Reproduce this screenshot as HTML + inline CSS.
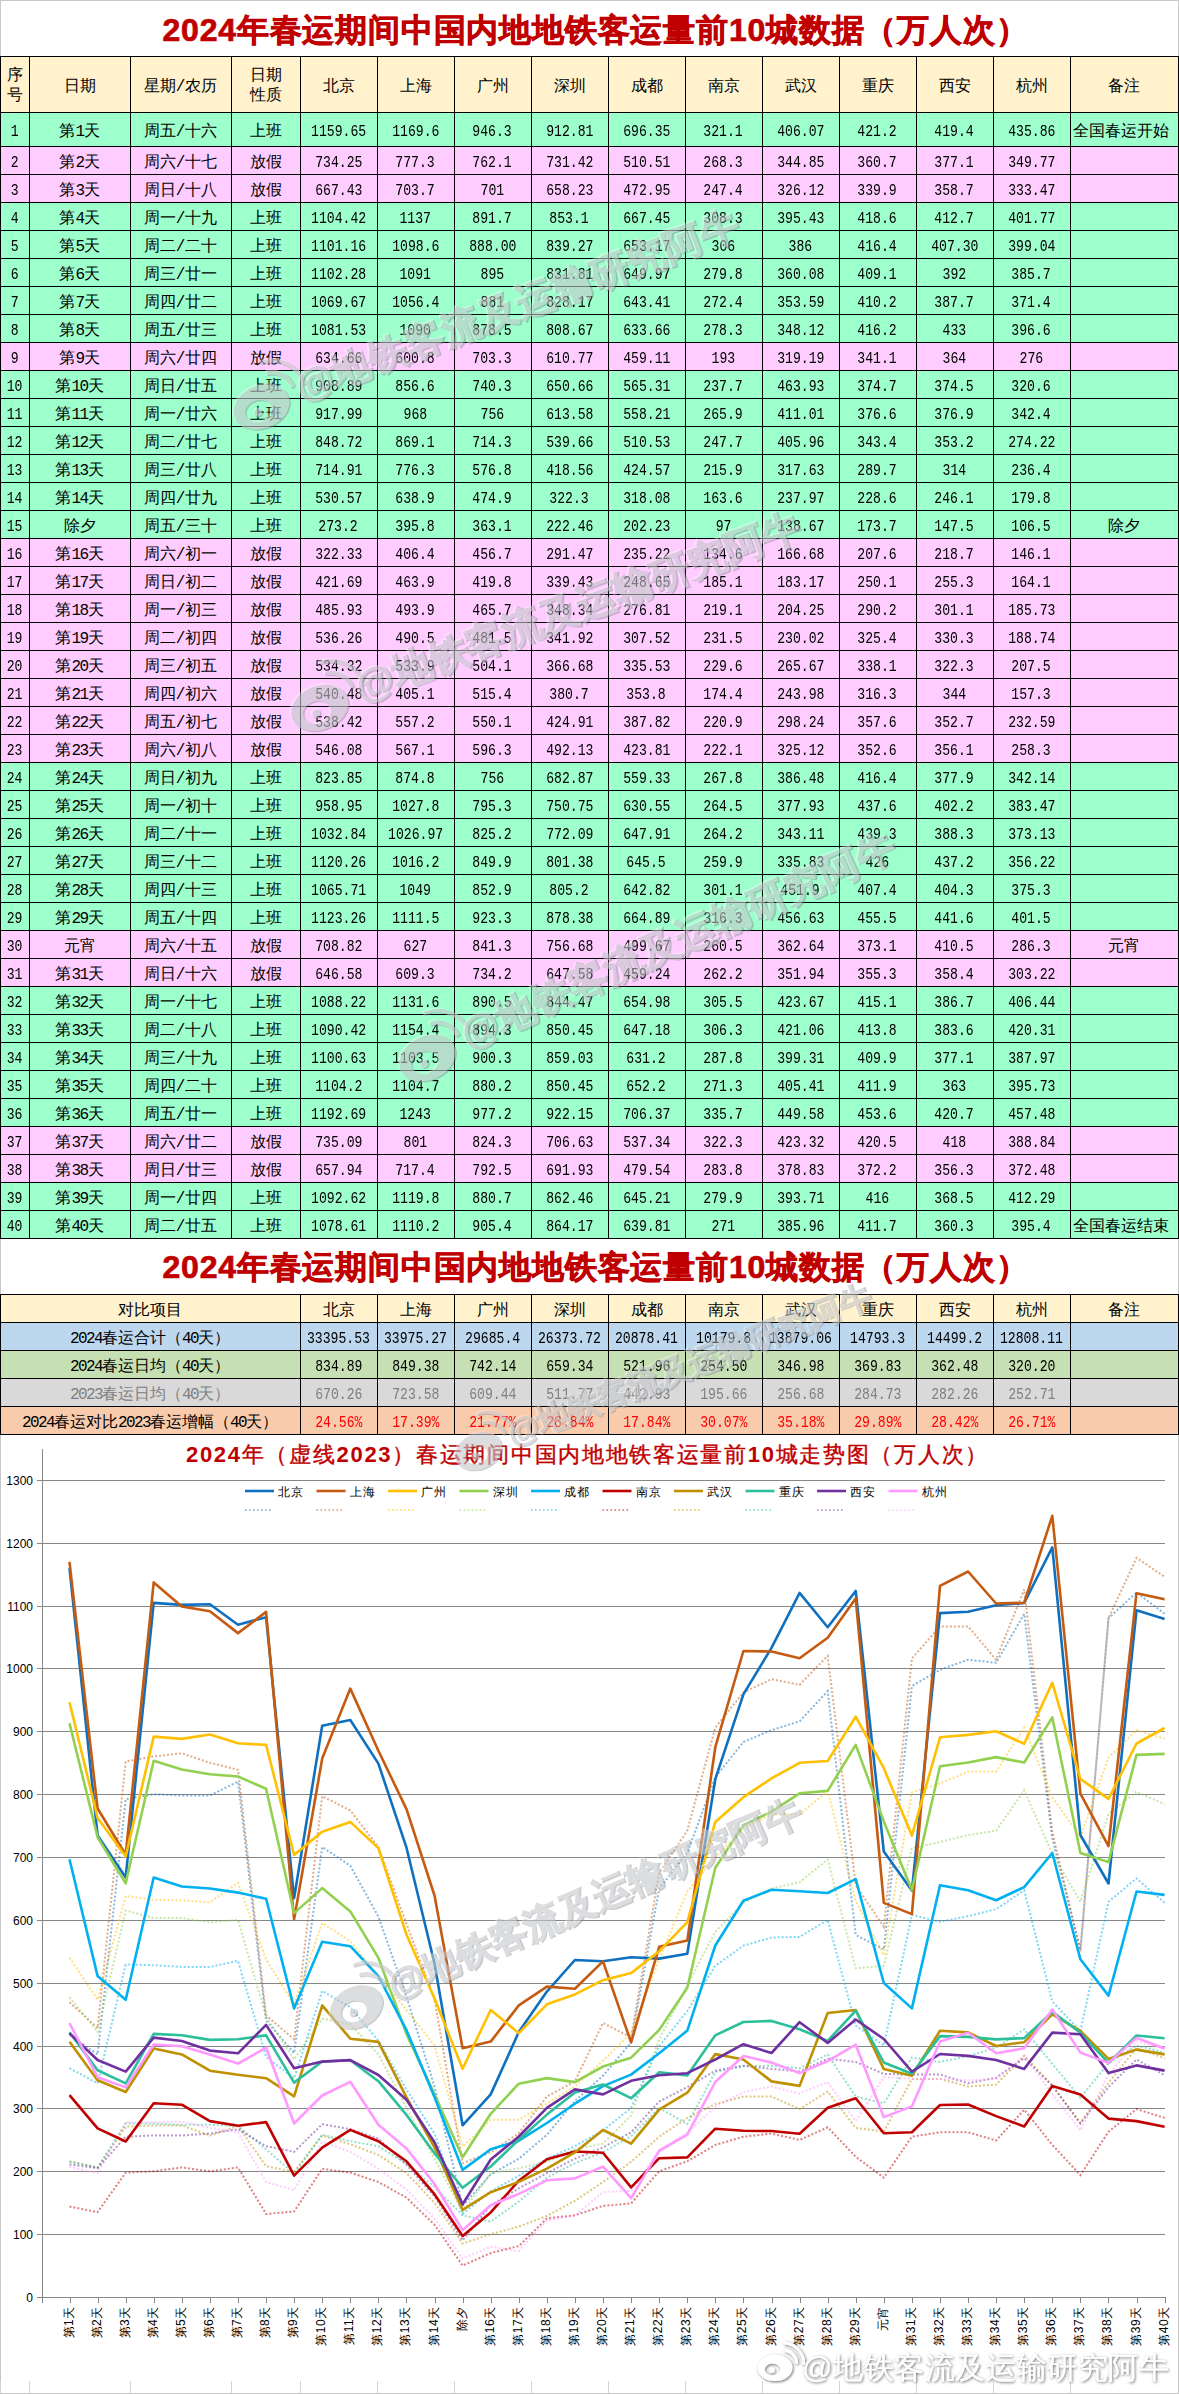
<!DOCTYPE html><html><head><meta charset="utf-8"><style>
*{box-sizing:border-box}
body{margin:0;width:1179px;height:2394px;position:relative;overflow:hidden;background:#fff;font-family:"Liberation Mono",monospace;color:#000}
.a{position:absolute}
.hl{position:absolute;height:1px;background:#000}
.vl{position:absolute;width:1px;background:#000}
.c{position:absolute;text-align:center;white-space:nowrap;font-size:16px;font-weight:300}
.n{display:inline-block;transform:scaleX(.82);}
.m{letter-spacing:-1.6px}
.ttl{position:absolute;left:6px;width:1179px;text-align:center;font-family:"Liberation Sans",sans-serif;font-weight:bold;color:#c00000;-webkit-text-stroke:.7px #c00000;font-size:32px;white-space:nowrap;letter-spacing:.8px}
</style></head><body>
<div class="a" style="left:0;top:0;width:1179px;height:1px;background:#c8c8c8"></div>
<div class="a" style="left:0;top:0;width:1px;height:2394px;background:#c8c8c8"></div>
<div class="a" style="left:1178px;top:0;width:1px;height:2394px;background:#c8c8c8"></div>
<div class="a" style="left:0;top:2393px;width:1179px;height:1px;background:#c8c8c8"></div>
<div class="ttl" style="top:9px;">2024年春运期间中国内地地铁客运量前10城数据（万人次）</div>
<div class="a" style="left:0;top:56px;width:1179px;height:56px;background:#fff2cc"></div>
<div class="a" style="left:0;top:112px;width:1179px;height:34px;background:#9cffcc"></div>
<div class="a" style="left:0;top:146px;width:1179px;height:28px;background:#ffccff"></div>
<div class="a" style="left:0;top:174px;width:1179px;height:28px;background:#ffccff"></div>
<div class="a" style="left:0;top:202px;width:1179px;height:28px;background:#9cffcc"></div>
<div class="a" style="left:0;top:230px;width:1179px;height:28px;background:#9cffcc"></div>
<div class="a" style="left:0;top:258px;width:1179px;height:28px;background:#9cffcc"></div>
<div class="a" style="left:0;top:286px;width:1179px;height:28px;background:#9cffcc"></div>
<div class="a" style="left:0;top:314px;width:1179px;height:28px;background:#9cffcc"></div>
<div class="a" style="left:0;top:342px;width:1179px;height:28px;background:#ffccff"></div>
<div class="a" style="left:0;top:370px;width:1179px;height:28px;background:#9cffcc"></div>
<div class="a" style="left:0;top:398px;width:1179px;height:28px;background:#9cffcc"></div>
<div class="a" style="left:0;top:426px;width:1179px;height:28px;background:#9cffcc"></div>
<div class="a" style="left:0;top:454px;width:1179px;height:28px;background:#9cffcc"></div>
<div class="a" style="left:0;top:482px;width:1179px;height:28px;background:#9cffcc"></div>
<div class="a" style="left:0;top:510px;width:1179px;height:28px;background:#9cffcc"></div>
<div class="a" style="left:0;top:538px;width:1179px;height:28px;background:#ffccff"></div>
<div class="a" style="left:0;top:566px;width:1179px;height:28px;background:#ffccff"></div>
<div class="a" style="left:0;top:594px;width:1179px;height:28px;background:#ffccff"></div>
<div class="a" style="left:0;top:622px;width:1179px;height:28px;background:#ffccff"></div>
<div class="a" style="left:0;top:650px;width:1179px;height:28px;background:#ffccff"></div>
<div class="a" style="left:0;top:678px;width:1179px;height:28px;background:#ffccff"></div>
<div class="a" style="left:0;top:706px;width:1179px;height:28px;background:#ffccff"></div>
<div class="a" style="left:0;top:734px;width:1179px;height:28px;background:#ffccff"></div>
<div class="a" style="left:0;top:762px;width:1179px;height:28px;background:#9cffcc"></div>
<div class="a" style="left:0;top:790px;width:1179px;height:28px;background:#9cffcc"></div>
<div class="a" style="left:0;top:818px;width:1179px;height:28px;background:#9cffcc"></div>
<div class="a" style="left:0;top:846px;width:1179px;height:28px;background:#9cffcc"></div>
<div class="a" style="left:0;top:874px;width:1179px;height:28px;background:#9cffcc"></div>
<div class="a" style="left:0;top:902px;width:1179px;height:28px;background:#9cffcc"></div>
<div class="a" style="left:0;top:930px;width:1179px;height:28px;background:#ffccff"></div>
<div class="a" style="left:0;top:958px;width:1179px;height:28px;background:#ffccff"></div>
<div class="a" style="left:0;top:986px;width:1179px;height:28px;background:#9cffcc"></div>
<div class="a" style="left:0;top:1014px;width:1179px;height:28px;background:#9cffcc"></div>
<div class="a" style="left:0;top:1042px;width:1179px;height:28px;background:#9cffcc"></div>
<div class="a" style="left:0;top:1070px;width:1179px;height:28px;background:#9cffcc"></div>
<div class="a" style="left:0;top:1098px;width:1179px;height:28px;background:#9cffcc"></div>
<div class="a" style="left:0;top:1126px;width:1179px;height:28px;background:#ffccff"></div>
<div class="a" style="left:0;top:1154px;width:1179px;height:28px;background:#ffccff"></div>
<div class="a" style="left:0;top:1182px;width:1179px;height:28px;background:#9cffcc"></div>
<div class="a" style="left:0;top:1210px;width:1179px;height:28px;background:#9cffcc"></div>
<div class="c" style="left:0px;width:29px;top:66px;line-height:20px">序<br>号</div>
<div class="c" style="left:29px;width:101px;top:59px;height:56px;line-height:56px;">日期</div>
<div class="c" style="left:130px;width:101px;top:59px;height:56px;line-height:56px;">星期/农历</div>
<div class="c" style="left:231px;width:69px;top:66px;line-height:20px">日期<br>性质</div>
<div class="c" style="left:300px;width:77px;top:59px;height:56px;line-height:56px;">北京</div>
<div class="c" style="left:377px;width:77px;top:59px;height:56px;line-height:56px;">上海</div>
<div class="c" style="left:454px;width:77px;top:59px;height:56px;line-height:56px;">广州</div>
<div class="c" style="left:531px;width:77px;top:59px;height:56px;line-height:56px;">深圳</div>
<div class="c" style="left:608px;width:77px;top:59px;height:56px;line-height:56px;">成都</div>
<div class="c" style="left:685px;width:77px;top:59px;height:56px;line-height:56px;">南京</div>
<div class="c" style="left:762px;width:77px;top:59px;height:56px;line-height:56px;">武汉</div>
<div class="c" style="left:839px;width:77px;top:59px;height:56px;line-height:56px;">重庆</div>
<div class="c" style="left:916px;width:77px;top:59px;height:56px;line-height:56px;">西安</div>
<div class="c" style="left:993px;width:77px;top:59px;height:56px;line-height:56px;">杭州</div>
<div class="c" style="left:1070px;width:108px;top:59px;height:56px;line-height:56px;">备注</div>
<div class="c" style="left:0px;width:29px;top:115px;height:34px;line-height:34px;"><span class="n">1</span></div>
<div class="c" style="left:29px;width:101px;top:115px;height:34px;line-height:34px;">第<span class="m">1</span>天</div>
<div class="c" style="left:130px;width:101px;top:115px;height:34px;line-height:34px;">周五/十六</div>
<div class="c" style="left:231px;width:69px;top:115px;height:34px;line-height:34px;">上班</div>
<div class="c" style="left:300px;width:77px;top:115px;height:34px;line-height:34px;"><span class="n">1159.65</span></div>
<div class="c" style="left:377px;width:77px;top:115px;height:34px;line-height:34px;"><span class="n">1169.6</span></div>
<div class="c" style="left:454px;width:77px;top:115px;height:34px;line-height:34px;"><span class="n">946.3</span></div>
<div class="c" style="left:531px;width:77px;top:115px;height:34px;line-height:34px;"><span class="n">912.81</span></div>
<div class="c" style="left:608px;width:77px;top:115px;height:34px;line-height:34px;"><span class="n">696.35</span></div>
<div class="c" style="left:685px;width:77px;top:115px;height:34px;line-height:34px;"><span class="n">321.1</span></div>
<div class="c" style="left:762px;width:77px;top:115px;height:34px;line-height:34px;"><span class="n">406.07</span></div>
<div class="c" style="left:839px;width:77px;top:115px;height:34px;line-height:34px;"><span class="n">421.2</span></div>
<div class="c" style="left:916px;width:77px;top:115px;height:34px;line-height:34px;"><span class="n">419.4</span></div>
<div class="c" style="left:993px;width:77px;top:115px;height:34px;line-height:34px;"><span class="n">435.86</span></div>
<div class="c" style="left:1070px;width:108px;top:115px;height:34px;line-height:34px;text-align:left;padding-left:3px;">全国春运开始</div>
<div class="c" style="left:0px;width:29px;top:149px;height:28px;line-height:28px;"><span class="n">2</span></div>
<div class="c" style="left:29px;width:101px;top:149px;height:28px;line-height:28px;">第<span class="m">2</span>天</div>
<div class="c" style="left:130px;width:101px;top:149px;height:28px;line-height:28px;">周六/十七</div>
<div class="c" style="left:231px;width:69px;top:149px;height:28px;line-height:28px;">放假</div>
<div class="c" style="left:300px;width:77px;top:149px;height:28px;line-height:28px;"><span class="n">734.25</span></div>
<div class="c" style="left:377px;width:77px;top:149px;height:28px;line-height:28px;"><span class="n">777.3</span></div>
<div class="c" style="left:454px;width:77px;top:149px;height:28px;line-height:28px;"><span class="n">762.1</span></div>
<div class="c" style="left:531px;width:77px;top:149px;height:28px;line-height:28px;"><span class="n">731.42</span></div>
<div class="c" style="left:608px;width:77px;top:149px;height:28px;line-height:28px;"><span class="n">510.51</span></div>
<div class="c" style="left:685px;width:77px;top:149px;height:28px;line-height:28px;"><span class="n">268.3</span></div>
<div class="c" style="left:762px;width:77px;top:149px;height:28px;line-height:28px;"><span class="n">344.85</span></div>
<div class="c" style="left:839px;width:77px;top:149px;height:28px;line-height:28px;"><span class="n">360.7</span></div>
<div class="c" style="left:916px;width:77px;top:149px;height:28px;line-height:28px;"><span class="n">377.1</span></div>
<div class="c" style="left:993px;width:77px;top:149px;height:28px;line-height:28px;"><span class="n">349.77</span></div>
<div class="c" style="left:0px;width:29px;top:177px;height:28px;line-height:28px;"><span class="n">3</span></div>
<div class="c" style="left:29px;width:101px;top:177px;height:28px;line-height:28px;">第<span class="m">3</span>天</div>
<div class="c" style="left:130px;width:101px;top:177px;height:28px;line-height:28px;">周日/十八</div>
<div class="c" style="left:231px;width:69px;top:177px;height:28px;line-height:28px;">放假</div>
<div class="c" style="left:300px;width:77px;top:177px;height:28px;line-height:28px;"><span class="n">667.43</span></div>
<div class="c" style="left:377px;width:77px;top:177px;height:28px;line-height:28px;"><span class="n">703.7</span></div>
<div class="c" style="left:454px;width:77px;top:177px;height:28px;line-height:28px;"><span class="n">701</span></div>
<div class="c" style="left:531px;width:77px;top:177px;height:28px;line-height:28px;"><span class="n">658.23</span></div>
<div class="c" style="left:608px;width:77px;top:177px;height:28px;line-height:28px;"><span class="n">472.95</span></div>
<div class="c" style="left:685px;width:77px;top:177px;height:28px;line-height:28px;"><span class="n">247.4</span></div>
<div class="c" style="left:762px;width:77px;top:177px;height:28px;line-height:28px;"><span class="n">326.12</span></div>
<div class="c" style="left:839px;width:77px;top:177px;height:28px;line-height:28px;"><span class="n">339.9</span></div>
<div class="c" style="left:916px;width:77px;top:177px;height:28px;line-height:28px;"><span class="n">358.7</span></div>
<div class="c" style="left:993px;width:77px;top:177px;height:28px;line-height:28px;"><span class="n">333.47</span></div>
<div class="c" style="left:0px;width:29px;top:205px;height:28px;line-height:28px;"><span class="n">4</span></div>
<div class="c" style="left:29px;width:101px;top:205px;height:28px;line-height:28px;">第<span class="m">4</span>天</div>
<div class="c" style="left:130px;width:101px;top:205px;height:28px;line-height:28px;">周一/十九</div>
<div class="c" style="left:231px;width:69px;top:205px;height:28px;line-height:28px;">上班</div>
<div class="c" style="left:300px;width:77px;top:205px;height:28px;line-height:28px;"><span class="n">1104.42</span></div>
<div class="c" style="left:377px;width:77px;top:205px;height:28px;line-height:28px;"><span class="n">1137</span></div>
<div class="c" style="left:454px;width:77px;top:205px;height:28px;line-height:28px;"><span class="n">891.7</span></div>
<div class="c" style="left:531px;width:77px;top:205px;height:28px;line-height:28px;"><span class="n">853.1</span></div>
<div class="c" style="left:608px;width:77px;top:205px;height:28px;line-height:28px;"><span class="n">667.45</span></div>
<div class="c" style="left:685px;width:77px;top:205px;height:28px;line-height:28px;"><span class="n">308.3</span></div>
<div class="c" style="left:762px;width:77px;top:205px;height:28px;line-height:28px;"><span class="n">395.43</span></div>
<div class="c" style="left:839px;width:77px;top:205px;height:28px;line-height:28px;"><span class="n">418.6</span></div>
<div class="c" style="left:916px;width:77px;top:205px;height:28px;line-height:28px;"><span class="n">412.7</span></div>
<div class="c" style="left:993px;width:77px;top:205px;height:28px;line-height:28px;"><span class="n">401.77</span></div>
<div class="c" style="left:0px;width:29px;top:233px;height:28px;line-height:28px;"><span class="n">5</span></div>
<div class="c" style="left:29px;width:101px;top:233px;height:28px;line-height:28px;">第<span class="m">5</span>天</div>
<div class="c" style="left:130px;width:101px;top:233px;height:28px;line-height:28px;">周二/二十</div>
<div class="c" style="left:231px;width:69px;top:233px;height:28px;line-height:28px;">上班</div>
<div class="c" style="left:300px;width:77px;top:233px;height:28px;line-height:28px;"><span class="n">1101.16</span></div>
<div class="c" style="left:377px;width:77px;top:233px;height:28px;line-height:28px;"><span class="n">1098.6</span></div>
<div class="c" style="left:454px;width:77px;top:233px;height:28px;line-height:28px;"><span class="n">888.00</span></div>
<div class="c" style="left:531px;width:77px;top:233px;height:28px;line-height:28px;"><span class="n">839.27</span></div>
<div class="c" style="left:608px;width:77px;top:233px;height:28px;line-height:28px;"><span class="n">653.17</span></div>
<div class="c" style="left:685px;width:77px;top:233px;height:28px;line-height:28px;"><span class="n">306</span></div>
<div class="c" style="left:762px;width:77px;top:233px;height:28px;line-height:28px;"><span class="n">386</span></div>
<div class="c" style="left:839px;width:77px;top:233px;height:28px;line-height:28px;"><span class="n">416.4</span></div>
<div class="c" style="left:916px;width:77px;top:233px;height:28px;line-height:28px;"><span class="n">407.30</span></div>
<div class="c" style="left:993px;width:77px;top:233px;height:28px;line-height:28px;"><span class="n">399.04</span></div>
<div class="c" style="left:0px;width:29px;top:261px;height:28px;line-height:28px;"><span class="n">6</span></div>
<div class="c" style="left:29px;width:101px;top:261px;height:28px;line-height:28px;">第<span class="m">6</span>天</div>
<div class="c" style="left:130px;width:101px;top:261px;height:28px;line-height:28px;">周三/廿一</div>
<div class="c" style="left:231px;width:69px;top:261px;height:28px;line-height:28px;">上班</div>
<div class="c" style="left:300px;width:77px;top:261px;height:28px;line-height:28px;"><span class="n">1102.28</span></div>
<div class="c" style="left:377px;width:77px;top:261px;height:28px;line-height:28px;"><span class="n">1091</span></div>
<div class="c" style="left:454px;width:77px;top:261px;height:28px;line-height:28px;"><span class="n">895</span></div>
<div class="c" style="left:531px;width:77px;top:261px;height:28px;line-height:28px;"><span class="n">831.81</span></div>
<div class="c" style="left:608px;width:77px;top:261px;height:28px;line-height:28px;"><span class="n">649.97</span></div>
<div class="c" style="left:685px;width:77px;top:261px;height:28px;line-height:28px;"><span class="n">279.8</span></div>
<div class="c" style="left:762px;width:77px;top:261px;height:28px;line-height:28px;"><span class="n">360.08</span></div>
<div class="c" style="left:839px;width:77px;top:261px;height:28px;line-height:28px;"><span class="n">409.1</span></div>
<div class="c" style="left:916px;width:77px;top:261px;height:28px;line-height:28px;"><span class="n">392</span></div>
<div class="c" style="left:993px;width:77px;top:261px;height:28px;line-height:28px;"><span class="n">385.7</span></div>
<div class="c" style="left:0px;width:29px;top:289px;height:28px;line-height:28px;"><span class="n">7</span></div>
<div class="c" style="left:29px;width:101px;top:289px;height:28px;line-height:28px;">第<span class="m">7</span>天</div>
<div class="c" style="left:130px;width:101px;top:289px;height:28px;line-height:28px;">周四/廿二</div>
<div class="c" style="left:231px;width:69px;top:289px;height:28px;line-height:28px;">上班</div>
<div class="c" style="left:300px;width:77px;top:289px;height:28px;line-height:28px;"><span class="n">1069.67</span></div>
<div class="c" style="left:377px;width:77px;top:289px;height:28px;line-height:28px;"><span class="n">1056.4</span></div>
<div class="c" style="left:454px;width:77px;top:289px;height:28px;line-height:28px;"><span class="n">881</span></div>
<div class="c" style="left:531px;width:77px;top:289px;height:28px;line-height:28px;"><span class="n">828.17</span></div>
<div class="c" style="left:608px;width:77px;top:289px;height:28px;line-height:28px;"><span class="n">643.41</span></div>
<div class="c" style="left:685px;width:77px;top:289px;height:28px;line-height:28px;"><span class="n">272.4</span></div>
<div class="c" style="left:762px;width:77px;top:289px;height:28px;line-height:28px;"><span class="n">353.59</span></div>
<div class="c" style="left:839px;width:77px;top:289px;height:28px;line-height:28px;"><span class="n">410.2</span></div>
<div class="c" style="left:916px;width:77px;top:289px;height:28px;line-height:28px;"><span class="n">387.7</span></div>
<div class="c" style="left:993px;width:77px;top:289px;height:28px;line-height:28px;"><span class="n">371.4</span></div>
<div class="c" style="left:0px;width:29px;top:317px;height:28px;line-height:28px;"><span class="n">8</span></div>
<div class="c" style="left:29px;width:101px;top:317px;height:28px;line-height:28px;">第<span class="m">8</span>天</div>
<div class="c" style="left:130px;width:101px;top:317px;height:28px;line-height:28px;">周五/廿三</div>
<div class="c" style="left:231px;width:69px;top:317px;height:28px;line-height:28px;">上班</div>
<div class="c" style="left:300px;width:77px;top:317px;height:28px;line-height:28px;"><span class="n">1081.53</span></div>
<div class="c" style="left:377px;width:77px;top:317px;height:28px;line-height:28px;"><span class="n">1090</span></div>
<div class="c" style="left:454px;width:77px;top:317px;height:28px;line-height:28px;"><span class="n">878.5</span></div>
<div class="c" style="left:531px;width:77px;top:317px;height:28px;line-height:28px;"><span class="n">808.67</span></div>
<div class="c" style="left:608px;width:77px;top:317px;height:28px;line-height:28px;"><span class="n">633.66</span></div>
<div class="c" style="left:685px;width:77px;top:317px;height:28px;line-height:28px;"><span class="n">278.3</span></div>
<div class="c" style="left:762px;width:77px;top:317px;height:28px;line-height:28px;"><span class="n">348.12</span></div>
<div class="c" style="left:839px;width:77px;top:317px;height:28px;line-height:28px;"><span class="n">416.2</span></div>
<div class="c" style="left:916px;width:77px;top:317px;height:28px;line-height:28px;"><span class="n">433</span></div>
<div class="c" style="left:993px;width:77px;top:317px;height:28px;line-height:28px;"><span class="n">396.6</span></div>
<div class="c" style="left:0px;width:29px;top:345px;height:28px;line-height:28px;"><span class="n">9</span></div>
<div class="c" style="left:29px;width:101px;top:345px;height:28px;line-height:28px;">第<span class="m">9</span>天</div>
<div class="c" style="left:130px;width:101px;top:345px;height:28px;line-height:28px;">周六/廿四</div>
<div class="c" style="left:231px;width:69px;top:345px;height:28px;line-height:28px;">放假</div>
<div class="c" style="left:300px;width:77px;top:345px;height:28px;line-height:28px;"><span class="n">634.66</span></div>
<div class="c" style="left:377px;width:77px;top:345px;height:28px;line-height:28px;"><span class="n">600.8</span></div>
<div class="c" style="left:454px;width:77px;top:345px;height:28px;line-height:28px;"><span class="n">703.3</span></div>
<div class="c" style="left:531px;width:77px;top:345px;height:28px;line-height:28px;"><span class="n">610.77</span></div>
<div class="c" style="left:608px;width:77px;top:345px;height:28px;line-height:28px;"><span class="n">459.11</span></div>
<div class="c" style="left:685px;width:77px;top:345px;height:28px;line-height:28px;"><span class="n">193</span></div>
<div class="c" style="left:762px;width:77px;top:345px;height:28px;line-height:28px;"><span class="n">319.19</span></div>
<div class="c" style="left:839px;width:77px;top:345px;height:28px;line-height:28px;"><span class="n">341.1</span></div>
<div class="c" style="left:916px;width:77px;top:345px;height:28px;line-height:28px;"><span class="n">364</span></div>
<div class="c" style="left:993px;width:77px;top:345px;height:28px;line-height:28px;"><span class="n">276</span></div>
<div class="c" style="left:0px;width:29px;top:373px;height:28px;line-height:28px;"><span class="n">10</span></div>
<div class="c" style="left:29px;width:101px;top:373px;height:28px;line-height:28px;">第<span class="m">10</span>天</div>
<div class="c" style="left:130px;width:101px;top:373px;height:28px;line-height:28px;">周日/廿五</div>
<div class="c" style="left:231px;width:69px;top:373px;height:28px;line-height:28px;">上班</div>
<div class="c" style="left:300px;width:77px;top:373px;height:28px;line-height:28px;"><span class="n">908.89</span></div>
<div class="c" style="left:377px;width:77px;top:373px;height:28px;line-height:28px;"><span class="n">856.6</span></div>
<div class="c" style="left:454px;width:77px;top:373px;height:28px;line-height:28px;"><span class="n">740.3</span></div>
<div class="c" style="left:531px;width:77px;top:373px;height:28px;line-height:28px;"><span class="n">650.66</span></div>
<div class="c" style="left:608px;width:77px;top:373px;height:28px;line-height:28px;"><span class="n">565.31</span></div>
<div class="c" style="left:685px;width:77px;top:373px;height:28px;line-height:28px;"><span class="n">237.7</span></div>
<div class="c" style="left:762px;width:77px;top:373px;height:28px;line-height:28px;"><span class="n">463.93</span></div>
<div class="c" style="left:839px;width:77px;top:373px;height:28px;line-height:28px;"><span class="n">374.7</span></div>
<div class="c" style="left:916px;width:77px;top:373px;height:28px;line-height:28px;"><span class="n">374.5</span></div>
<div class="c" style="left:993px;width:77px;top:373px;height:28px;line-height:28px;"><span class="n">320.6</span></div>
<div class="c" style="left:0px;width:29px;top:401px;height:28px;line-height:28px;"><span class="n">11</span></div>
<div class="c" style="left:29px;width:101px;top:401px;height:28px;line-height:28px;">第<span class="m">11</span>天</div>
<div class="c" style="left:130px;width:101px;top:401px;height:28px;line-height:28px;">周一/廿六</div>
<div class="c" style="left:231px;width:69px;top:401px;height:28px;line-height:28px;">上班</div>
<div class="c" style="left:300px;width:77px;top:401px;height:28px;line-height:28px;"><span class="n">917.99</span></div>
<div class="c" style="left:377px;width:77px;top:401px;height:28px;line-height:28px;"><span class="n">968</span></div>
<div class="c" style="left:454px;width:77px;top:401px;height:28px;line-height:28px;"><span class="n">756</span></div>
<div class="c" style="left:531px;width:77px;top:401px;height:28px;line-height:28px;"><span class="n">613.58</span></div>
<div class="c" style="left:608px;width:77px;top:401px;height:28px;line-height:28px;"><span class="n">558.21</span></div>
<div class="c" style="left:685px;width:77px;top:401px;height:28px;line-height:28px;"><span class="n">265.9</span></div>
<div class="c" style="left:762px;width:77px;top:401px;height:28px;line-height:28px;"><span class="n">411.01</span></div>
<div class="c" style="left:839px;width:77px;top:401px;height:28px;line-height:28px;"><span class="n">376.6</span></div>
<div class="c" style="left:916px;width:77px;top:401px;height:28px;line-height:28px;"><span class="n">376.9</span></div>
<div class="c" style="left:993px;width:77px;top:401px;height:28px;line-height:28px;"><span class="n">342.4</span></div>
<div class="c" style="left:0px;width:29px;top:429px;height:28px;line-height:28px;"><span class="n">12</span></div>
<div class="c" style="left:29px;width:101px;top:429px;height:28px;line-height:28px;">第<span class="m">12</span>天</div>
<div class="c" style="left:130px;width:101px;top:429px;height:28px;line-height:28px;">周二/廿七</div>
<div class="c" style="left:231px;width:69px;top:429px;height:28px;line-height:28px;">上班</div>
<div class="c" style="left:300px;width:77px;top:429px;height:28px;line-height:28px;"><span class="n">848.72</span></div>
<div class="c" style="left:377px;width:77px;top:429px;height:28px;line-height:28px;"><span class="n">869.1</span></div>
<div class="c" style="left:454px;width:77px;top:429px;height:28px;line-height:28px;"><span class="n">714.3</span></div>
<div class="c" style="left:531px;width:77px;top:429px;height:28px;line-height:28px;"><span class="n">539.66</span></div>
<div class="c" style="left:608px;width:77px;top:429px;height:28px;line-height:28px;"><span class="n">510.53</span></div>
<div class="c" style="left:685px;width:77px;top:429px;height:28px;line-height:28px;"><span class="n">247.7</span></div>
<div class="c" style="left:762px;width:77px;top:429px;height:28px;line-height:28px;"><span class="n">405.96</span></div>
<div class="c" style="left:839px;width:77px;top:429px;height:28px;line-height:28px;"><span class="n">343.4</span></div>
<div class="c" style="left:916px;width:77px;top:429px;height:28px;line-height:28px;"><span class="n">353.2</span></div>
<div class="c" style="left:993px;width:77px;top:429px;height:28px;line-height:28px;"><span class="n">274.22</span></div>
<div class="c" style="left:0px;width:29px;top:457px;height:28px;line-height:28px;"><span class="n">13</span></div>
<div class="c" style="left:29px;width:101px;top:457px;height:28px;line-height:28px;">第<span class="m">13</span>天</div>
<div class="c" style="left:130px;width:101px;top:457px;height:28px;line-height:28px;">周三/廿八</div>
<div class="c" style="left:231px;width:69px;top:457px;height:28px;line-height:28px;">上班</div>
<div class="c" style="left:300px;width:77px;top:457px;height:28px;line-height:28px;"><span class="n">714.91</span></div>
<div class="c" style="left:377px;width:77px;top:457px;height:28px;line-height:28px;"><span class="n">776.3</span></div>
<div class="c" style="left:454px;width:77px;top:457px;height:28px;line-height:28px;"><span class="n">576.8</span></div>
<div class="c" style="left:531px;width:77px;top:457px;height:28px;line-height:28px;"><span class="n">418.56</span></div>
<div class="c" style="left:608px;width:77px;top:457px;height:28px;line-height:28px;"><span class="n">424.57</span></div>
<div class="c" style="left:685px;width:77px;top:457px;height:28px;line-height:28px;"><span class="n">215.9</span></div>
<div class="c" style="left:762px;width:77px;top:457px;height:28px;line-height:28px;"><span class="n">317.63</span></div>
<div class="c" style="left:839px;width:77px;top:457px;height:28px;line-height:28px;"><span class="n">289.7</span></div>
<div class="c" style="left:916px;width:77px;top:457px;height:28px;line-height:28px;"><span class="n">314</span></div>
<div class="c" style="left:993px;width:77px;top:457px;height:28px;line-height:28px;"><span class="n">236.4</span></div>
<div class="c" style="left:0px;width:29px;top:485px;height:28px;line-height:28px;"><span class="n">14</span></div>
<div class="c" style="left:29px;width:101px;top:485px;height:28px;line-height:28px;">第<span class="m">14</span>天</div>
<div class="c" style="left:130px;width:101px;top:485px;height:28px;line-height:28px;">周四/廿九</div>
<div class="c" style="left:231px;width:69px;top:485px;height:28px;line-height:28px;">上班</div>
<div class="c" style="left:300px;width:77px;top:485px;height:28px;line-height:28px;"><span class="n">530.57</span></div>
<div class="c" style="left:377px;width:77px;top:485px;height:28px;line-height:28px;"><span class="n">638.9</span></div>
<div class="c" style="left:454px;width:77px;top:485px;height:28px;line-height:28px;"><span class="n">474.9</span></div>
<div class="c" style="left:531px;width:77px;top:485px;height:28px;line-height:28px;"><span class="n">322.3</span></div>
<div class="c" style="left:608px;width:77px;top:485px;height:28px;line-height:28px;"><span class="n">318.08</span></div>
<div class="c" style="left:685px;width:77px;top:485px;height:28px;line-height:28px;"><span class="n">163.6</span></div>
<div class="c" style="left:762px;width:77px;top:485px;height:28px;line-height:28px;"><span class="n">237.97</span></div>
<div class="c" style="left:839px;width:77px;top:485px;height:28px;line-height:28px;"><span class="n">228.6</span></div>
<div class="c" style="left:916px;width:77px;top:485px;height:28px;line-height:28px;"><span class="n">246.1</span></div>
<div class="c" style="left:993px;width:77px;top:485px;height:28px;line-height:28px;"><span class="n">179.8</span></div>
<div class="c" style="left:0px;width:29px;top:513px;height:28px;line-height:28px;"><span class="n">15</span></div>
<div class="c" style="left:29px;width:101px;top:513px;height:28px;line-height:28px;">除夕</div>
<div class="c" style="left:130px;width:101px;top:513px;height:28px;line-height:28px;">周五/三十</div>
<div class="c" style="left:231px;width:69px;top:513px;height:28px;line-height:28px;">上班</div>
<div class="c" style="left:300px;width:77px;top:513px;height:28px;line-height:28px;"><span class="n">273.2</span></div>
<div class="c" style="left:377px;width:77px;top:513px;height:28px;line-height:28px;"><span class="n">395.8</span></div>
<div class="c" style="left:454px;width:77px;top:513px;height:28px;line-height:28px;"><span class="n">363.1</span></div>
<div class="c" style="left:531px;width:77px;top:513px;height:28px;line-height:28px;"><span class="n">222.46</span></div>
<div class="c" style="left:608px;width:77px;top:513px;height:28px;line-height:28px;"><span class="n">202.23</span></div>
<div class="c" style="left:685px;width:77px;top:513px;height:28px;line-height:28px;"><span class="n">97</span></div>
<div class="c" style="left:762px;width:77px;top:513px;height:28px;line-height:28px;"><span class="n">138.67</span></div>
<div class="c" style="left:839px;width:77px;top:513px;height:28px;line-height:28px;"><span class="n">173.7</span></div>
<div class="c" style="left:916px;width:77px;top:513px;height:28px;line-height:28px;"><span class="n">147.5</span></div>
<div class="c" style="left:993px;width:77px;top:513px;height:28px;line-height:28px;"><span class="n">106.5</span></div>
<div class="c" style="left:1070px;width:108px;top:513px;height:28px;line-height:28px;">除夕</div>
<div class="c" style="left:0px;width:29px;top:541px;height:28px;line-height:28px;"><span class="n">16</span></div>
<div class="c" style="left:29px;width:101px;top:541px;height:28px;line-height:28px;">第<span class="m">16</span>天</div>
<div class="c" style="left:130px;width:101px;top:541px;height:28px;line-height:28px;">周六/初一</div>
<div class="c" style="left:231px;width:69px;top:541px;height:28px;line-height:28px;">放假</div>
<div class="c" style="left:300px;width:77px;top:541px;height:28px;line-height:28px;"><span class="n">322.33</span></div>
<div class="c" style="left:377px;width:77px;top:541px;height:28px;line-height:28px;"><span class="n">406.4</span></div>
<div class="c" style="left:454px;width:77px;top:541px;height:28px;line-height:28px;"><span class="n">456.7</span></div>
<div class="c" style="left:531px;width:77px;top:541px;height:28px;line-height:28px;"><span class="n">291.47</span></div>
<div class="c" style="left:608px;width:77px;top:541px;height:28px;line-height:28px;"><span class="n">235.22</span></div>
<div class="c" style="left:685px;width:77px;top:541px;height:28px;line-height:28px;"><span class="n">134.6</span></div>
<div class="c" style="left:762px;width:77px;top:541px;height:28px;line-height:28px;"><span class="n">166.68</span></div>
<div class="c" style="left:839px;width:77px;top:541px;height:28px;line-height:28px;"><span class="n">207.6</span></div>
<div class="c" style="left:916px;width:77px;top:541px;height:28px;line-height:28px;"><span class="n">218.7</span></div>
<div class="c" style="left:993px;width:77px;top:541px;height:28px;line-height:28px;"><span class="n">146.1</span></div>
<div class="c" style="left:0px;width:29px;top:569px;height:28px;line-height:28px;"><span class="n">17</span></div>
<div class="c" style="left:29px;width:101px;top:569px;height:28px;line-height:28px;">第<span class="m">17</span>天</div>
<div class="c" style="left:130px;width:101px;top:569px;height:28px;line-height:28px;">周日/初二</div>
<div class="c" style="left:231px;width:69px;top:569px;height:28px;line-height:28px;">放假</div>
<div class="c" style="left:300px;width:77px;top:569px;height:28px;line-height:28px;"><span class="n">421.69</span></div>
<div class="c" style="left:377px;width:77px;top:569px;height:28px;line-height:28px;"><span class="n">463.9</span></div>
<div class="c" style="left:454px;width:77px;top:569px;height:28px;line-height:28px;"><span class="n">419.8</span></div>
<div class="c" style="left:531px;width:77px;top:569px;height:28px;line-height:28px;"><span class="n">339.43</span></div>
<div class="c" style="left:608px;width:77px;top:569px;height:28px;line-height:28px;"><span class="n">248.65</span></div>
<div class="c" style="left:685px;width:77px;top:569px;height:28px;line-height:28px;"><span class="n">185.1</span></div>
<div class="c" style="left:762px;width:77px;top:569px;height:28px;line-height:28px;"><span class="n">183.17</span></div>
<div class="c" style="left:839px;width:77px;top:569px;height:28px;line-height:28px;"><span class="n">250.1</span></div>
<div class="c" style="left:916px;width:77px;top:569px;height:28px;line-height:28px;"><span class="n">255.3</span></div>
<div class="c" style="left:993px;width:77px;top:569px;height:28px;line-height:28px;"><span class="n">164.1</span></div>
<div class="c" style="left:0px;width:29px;top:597px;height:28px;line-height:28px;"><span class="n">18</span></div>
<div class="c" style="left:29px;width:101px;top:597px;height:28px;line-height:28px;">第<span class="m">18</span>天</div>
<div class="c" style="left:130px;width:101px;top:597px;height:28px;line-height:28px;">周一/初三</div>
<div class="c" style="left:231px;width:69px;top:597px;height:28px;line-height:28px;">放假</div>
<div class="c" style="left:300px;width:77px;top:597px;height:28px;line-height:28px;"><span class="n">485.93</span></div>
<div class="c" style="left:377px;width:77px;top:597px;height:28px;line-height:28px;"><span class="n">493.9</span></div>
<div class="c" style="left:454px;width:77px;top:597px;height:28px;line-height:28px;"><span class="n">465.7</span></div>
<div class="c" style="left:531px;width:77px;top:597px;height:28px;line-height:28px;"><span class="n">348.34</span></div>
<div class="c" style="left:608px;width:77px;top:597px;height:28px;line-height:28px;"><span class="n">276.81</span></div>
<div class="c" style="left:685px;width:77px;top:597px;height:28px;line-height:28px;"><span class="n">219.1</span></div>
<div class="c" style="left:762px;width:77px;top:597px;height:28px;line-height:28px;"><span class="n">204.25</span></div>
<div class="c" style="left:839px;width:77px;top:597px;height:28px;line-height:28px;"><span class="n">290.2</span></div>
<div class="c" style="left:916px;width:77px;top:597px;height:28px;line-height:28px;"><span class="n">301.1</span></div>
<div class="c" style="left:993px;width:77px;top:597px;height:28px;line-height:28px;"><span class="n">185.73</span></div>
<div class="c" style="left:0px;width:29px;top:625px;height:28px;line-height:28px;"><span class="n">19</span></div>
<div class="c" style="left:29px;width:101px;top:625px;height:28px;line-height:28px;">第<span class="m">19</span>天</div>
<div class="c" style="left:130px;width:101px;top:625px;height:28px;line-height:28px;">周二/初四</div>
<div class="c" style="left:231px;width:69px;top:625px;height:28px;line-height:28px;">放假</div>
<div class="c" style="left:300px;width:77px;top:625px;height:28px;line-height:28px;"><span class="n">536.26</span></div>
<div class="c" style="left:377px;width:77px;top:625px;height:28px;line-height:28px;"><span class="n">490.5</span></div>
<div class="c" style="left:454px;width:77px;top:625px;height:28px;line-height:28px;"><span class="n">481.5</span></div>
<div class="c" style="left:531px;width:77px;top:625px;height:28px;line-height:28px;"><span class="n">341.92</span></div>
<div class="c" style="left:608px;width:77px;top:625px;height:28px;line-height:28px;"><span class="n">307.52</span></div>
<div class="c" style="left:685px;width:77px;top:625px;height:28px;line-height:28px;"><span class="n">231.5</span></div>
<div class="c" style="left:762px;width:77px;top:625px;height:28px;line-height:28px;"><span class="n">230.02</span></div>
<div class="c" style="left:839px;width:77px;top:625px;height:28px;line-height:28px;"><span class="n">325.4</span></div>
<div class="c" style="left:916px;width:77px;top:625px;height:28px;line-height:28px;"><span class="n">330.3</span></div>
<div class="c" style="left:993px;width:77px;top:625px;height:28px;line-height:28px;"><span class="n">188.74</span></div>
<div class="c" style="left:0px;width:29px;top:653px;height:28px;line-height:28px;"><span class="n">20</span></div>
<div class="c" style="left:29px;width:101px;top:653px;height:28px;line-height:28px;">第<span class="m">20</span>天</div>
<div class="c" style="left:130px;width:101px;top:653px;height:28px;line-height:28px;">周三/初五</div>
<div class="c" style="left:231px;width:69px;top:653px;height:28px;line-height:28px;">放假</div>
<div class="c" style="left:300px;width:77px;top:653px;height:28px;line-height:28px;"><span class="n">534.32</span></div>
<div class="c" style="left:377px;width:77px;top:653px;height:28px;line-height:28px;"><span class="n">533.9</span></div>
<div class="c" style="left:454px;width:77px;top:653px;height:28px;line-height:28px;"><span class="n">504.1</span></div>
<div class="c" style="left:531px;width:77px;top:653px;height:28px;line-height:28px;"><span class="n">366.68</span></div>
<div class="c" style="left:608px;width:77px;top:653px;height:28px;line-height:28px;"><span class="n">335.53</span></div>
<div class="c" style="left:685px;width:77px;top:653px;height:28px;line-height:28px;"><span class="n">229.6</span></div>
<div class="c" style="left:762px;width:77px;top:653px;height:28px;line-height:28px;"><span class="n">265.67</span></div>
<div class="c" style="left:839px;width:77px;top:653px;height:28px;line-height:28px;"><span class="n">338.1</span></div>
<div class="c" style="left:916px;width:77px;top:653px;height:28px;line-height:28px;"><span class="n">322.3</span></div>
<div class="c" style="left:993px;width:77px;top:653px;height:28px;line-height:28px;"><span class="n">207.5</span></div>
<div class="c" style="left:0px;width:29px;top:681px;height:28px;line-height:28px;"><span class="n">21</span></div>
<div class="c" style="left:29px;width:101px;top:681px;height:28px;line-height:28px;">第<span class="m">21</span>天</div>
<div class="c" style="left:130px;width:101px;top:681px;height:28px;line-height:28px;">周四/初六</div>
<div class="c" style="left:231px;width:69px;top:681px;height:28px;line-height:28px;">放假</div>
<div class="c" style="left:300px;width:77px;top:681px;height:28px;line-height:28px;"><span class="n">540.48</span></div>
<div class="c" style="left:377px;width:77px;top:681px;height:28px;line-height:28px;"><span class="n">405.1</span></div>
<div class="c" style="left:454px;width:77px;top:681px;height:28px;line-height:28px;"><span class="n">515.4</span></div>
<div class="c" style="left:531px;width:77px;top:681px;height:28px;line-height:28px;"><span class="n">380.7</span></div>
<div class="c" style="left:608px;width:77px;top:681px;height:28px;line-height:28px;"><span class="n">353.8</span></div>
<div class="c" style="left:685px;width:77px;top:681px;height:28px;line-height:28px;"><span class="n">174.4</span></div>
<div class="c" style="left:762px;width:77px;top:681px;height:28px;line-height:28px;"><span class="n">243.98</span></div>
<div class="c" style="left:839px;width:77px;top:681px;height:28px;line-height:28px;"><span class="n">316.3</span></div>
<div class="c" style="left:916px;width:77px;top:681px;height:28px;line-height:28px;"><span class="n">344</span></div>
<div class="c" style="left:993px;width:77px;top:681px;height:28px;line-height:28px;"><span class="n">157.3</span></div>
<div class="c" style="left:0px;width:29px;top:709px;height:28px;line-height:28px;"><span class="n">22</span></div>
<div class="c" style="left:29px;width:101px;top:709px;height:28px;line-height:28px;">第<span class="m">22</span>天</div>
<div class="c" style="left:130px;width:101px;top:709px;height:28px;line-height:28px;">周五/初七</div>
<div class="c" style="left:231px;width:69px;top:709px;height:28px;line-height:28px;">放假</div>
<div class="c" style="left:300px;width:77px;top:709px;height:28px;line-height:28px;"><span class="n">538.42</span></div>
<div class="c" style="left:377px;width:77px;top:709px;height:28px;line-height:28px;"><span class="n">557.2</span></div>
<div class="c" style="left:454px;width:77px;top:709px;height:28px;line-height:28px;"><span class="n">550.1</span></div>
<div class="c" style="left:531px;width:77px;top:709px;height:28px;line-height:28px;"><span class="n">424.91</span></div>
<div class="c" style="left:608px;width:77px;top:709px;height:28px;line-height:28px;"><span class="n">387.82</span></div>
<div class="c" style="left:685px;width:77px;top:709px;height:28px;line-height:28px;"><span class="n">220.9</span></div>
<div class="c" style="left:762px;width:77px;top:709px;height:28px;line-height:28px;"><span class="n">298.24</span></div>
<div class="c" style="left:839px;width:77px;top:709px;height:28px;line-height:28px;"><span class="n">357.6</span></div>
<div class="c" style="left:916px;width:77px;top:709px;height:28px;line-height:28px;"><span class="n">352.7</span></div>
<div class="c" style="left:993px;width:77px;top:709px;height:28px;line-height:28px;"><span class="n">232.59</span></div>
<div class="c" style="left:0px;width:29px;top:737px;height:28px;line-height:28px;"><span class="n">23</span></div>
<div class="c" style="left:29px;width:101px;top:737px;height:28px;line-height:28px;">第<span class="m">23</span>天</div>
<div class="c" style="left:130px;width:101px;top:737px;height:28px;line-height:28px;">周六/初八</div>
<div class="c" style="left:231px;width:69px;top:737px;height:28px;line-height:28px;">放假</div>
<div class="c" style="left:300px;width:77px;top:737px;height:28px;line-height:28px;"><span class="n">546.08</span></div>
<div class="c" style="left:377px;width:77px;top:737px;height:28px;line-height:28px;"><span class="n">567.1</span></div>
<div class="c" style="left:454px;width:77px;top:737px;height:28px;line-height:28px;"><span class="n">596.3</span></div>
<div class="c" style="left:531px;width:77px;top:737px;height:28px;line-height:28px;"><span class="n">492.13</span></div>
<div class="c" style="left:608px;width:77px;top:737px;height:28px;line-height:28px;"><span class="n">423.81</span></div>
<div class="c" style="left:685px;width:77px;top:737px;height:28px;line-height:28px;"><span class="n">222.1</span></div>
<div class="c" style="left:762px;width:77px;top:737px;height:28px;line-height:28px;"><span class="n">325.12</span></div>
<div class="c" style="left:839px;width:77px;top:737px;height:28px;line-height:28px;"><span class="n">352.6</span></div>
<div class="c" style="left:916px;width:77px;top:737px;height:28px;line-height:28px;"><span class="n">356.1</span></div>
<div class="c" style="left:993px;width:77px;top:737px;height:28px;line-height:28px;"><span class="n">258.3</span></div>
<div class="c" style="left:0px;width:29px;top:765px;height:28px;line-height:28px;"><span class="n">24</span></div>
<div class="c" style="left:29px;width:101px;top:765px;height:28px;line-height:28px;">第<span class="m">24</span>天</div>
<div class="c" style="left:130px;width:101px;top:765px;height:28px;line-height:28px;">周日/初九</div>
<div class="c" style="left:231px;width:69px;top:765px;height:28px;line-height:28px;">上班</div>
<div class="c" style="left:300px;width:77px;top:765px;height:28px;line-height:28px;"><span class="n">823.85</span></div>
<div class="c" style="left:377px;width:77px;top:765px;height:28px;line-height:28px;"><span class="n">874.8</span></div>
<div class="c" style="left:454px;width:77px;top:765px;height:28px;line-height:28px;"><span class="n">756</span></div>
<div class="c" style="left:531px;width:77px;top:765px;height:28px;line-height:28px;"><span class="n">682.87</span></div>
<div class="c" style="left:608px;width:77px;top:765px;height:28px;line-height:28px;"><span class="n">559.33</span></div>
<div class="c" style="left:685px;width:77px;top:765px;height:28px;line-height:28px;"><span class="n">267.8</span></div>
<div class="c" style="left:762px;width:77px;top:765px;height:28px;line-height:28px;"><span class="n">386.48</span></div>
<div class="c" style="left:839px;width:77px;top:765px;height:28px;line-height:28px;"><span class="n">416.4</span></div>
<div class="c" style="left:916px;width:77px;top:765px;height:28px;line-height:28px;"><span class="n">377.9</span></div>
<div class="c" style="left:993px;width:77px;top:765px;height:28px;line-height:28px;"><span class="n">342.14</span></div>
<div class="c" style="left:0px;width:29px;top:793px;height:28px;line-height:28px;"><span class="n">25</span></div>
<div class="c" style="left:29px;width:101px;top:793px;height:28px;line-height:28px;">第<span class="m">25</span>天</div>
<div class="c" style="left:130px;width:101px;top:793px;height:28px;line-height:28px;">周一/初十</div>
<div class="c" style="left:231px;width:69px;top:793px;height:28px;line-height:28px;">上班</div>
<div class="c" style="left:300px;width:77px;top:793px;height:28px;line-height:28px;"><span class="n">958.95</span></div>
<div class="c" style="left:377px;width:77px;top:793px;height:28px;line-height:28px;"><span class="n">1027.8</span></div>
<div class="c" style="left:454px;width:77px;top:793px;height:28px;line-height:28px;"><span class="n">795.3</span></div>
<div class="c" style="left:531px;width:77px;top:793px;height:28px;line-height:28px;"><span class="n">750.75</span></div>
<div class="c" style="left:608px;width:77px;top:793px;height:28px;line-height:28px;"><span class="n">630.55</span></div>
<div class="c" style="left:685px;width:77px;top:793px;height:28px;line-height:28px;"><span class="n">264.5</span></div>
<div class="c" style="left:762px;width:77px;top:793px;height:28px;line-height:28px;"><span class="n">377.93</span></div>
<div class="c" style="left:839px;width:77px;top:793px;height:28px;line-height:28px;"><span class="n">437.6</span></div>
<div class="c" style="left:916px;width:77px;top:793px;height:28px;line-height:28px;"><span class="n">402.2</span></div>
<div class="c" style="left:993px;width:77px;top:793px;height:28px;line-height:28px;"><span class="n">383.47</span></div>
<div class="c" style="left:0px;width:29px;top:821px;height:28px;line-height:28px;"><span class="n">26</span></div>
<div class="c" style="left:29px;width:101px;top:821px;height:28px;line-height:28px;">第<span class="m">26</span>天</div>
<div class="c" style="left:130px;width:101px;top:821px;height:28px;line-height:28px;">周二/十一</div>
<div class="c" style="left:231px;width:69px;top:821px;height:28px;line-height:28px;">上班</div>
<div class="c" style="left:300px;width:77px;top:821px;height:28px;line-height:28px;"><span class="n">1032.84</span></div>
<div class="c" style="left:377px;width:77px;top:821px;height:28px;line-height:28px;"><span class="n">1026.97</span></div>
<div class="c" style="left:454px;width:77px;top:821px;height:28px;line-height:28px;"><span class="n">825.2</span></div>
<div class="c" style="left:531px;width:77px;top:821px;height:28px;line-height:28px;"><span class="n">772.09</span></div>
<div class="c" style="left:608px;width:77px;top:821px;height:28px;line-height:28px;"><span class="n">647.91</span></div>
<div class="c" style="left:685px;width:77px;top:821px;height:28px;line-height:28px;"><span class="n">264.2</span></div>
<div class="c" style="left:762px;width:77px;top:821px;height:28px;line-height:28px;"><span class="n">343.11</span></div>
<div class="c" style="left:839px;width:77px;top:821px;height:28px;line-height:28px;"><span class="n">439.3</span></div>
<div class="c" style="left:916px;width:77px;top:821px;height:28px;line-height:28px;"><span class="n">388.3</span></div>
<div class="c" style="left:993px;width:77px;top:821px;height:28px;line-height:28px;"><span class="n">373.13</span></div>
<div class="c" style="left:0px;width:29px;top:849px;height:28px;line-height:28px;"><span class="n">27</span></div>
<div class="c" style="left:29px;width:101px;top:849px;height:28px;line-height:28px;">第<span class="m">27</span>天</div>
<div class="c" style="left:130px;width:101px;top:849px;height:28px;line-height:28px;">周三/十二</div>
<div class="c" style="left:231px;width:69px;top:849px;height:28px;line-height:28px;">上班</div>
<div class="c" style="left:300px;width:77px;top:849px;height:28px;line-height:28px;"><span class="n">1120.26</span></div>
<div class="c" style="left:377px;width:77px;top:849px;height:28px;line-height:28px;"><span class="n">1016.2</span></div>
<div class="c" style="left:454px;width:77px;top:849px;height:28px;line-height:28px;"><span class="n">849.9</span></div>
<div class="c" style="left:531px;width:77px;top:849px;height:28px;line-height:28px;"><span class="n">801.38</span></div>
<div class="c" style="left:608px;width:77px;top:849px;height:28px;line-height:28px;"><span class="n">645.5</span></div>
<div class="c" style="left:685px;width:77px;top:849px;height:28px;line-height:28px;"><span class="n">259.9</span></div>
<div class="c" style="left:762px;width:77px;top:849px;height:28px;line-height:28px;"><span class="n">335.83</span></div>
<div class="c" style="left:839px;width:77px;top:849px;height:28px;line-height:28px;"><span class="n">426</span></div>
<div class="c" style="left:916px;width:77px;top:849px;height:28px;line-height:28px;"><span class="n">437.2</span></div>
<div class="c" style="left:993px;width:77px;top:849px;height:28px;line-height:28px;"><span class="n">356.22</span></div>
<div class="c" style="left:0px;width:29px;top:877px;height:28px;line-height:28px;"><span class="n">28</span></div>
<div class="c" style="left:29px;width:101px;top:877px;height:28px;line-height:28px;">第<span class="m">28</span>天</div>
<div class="c" style="left:130px;width:101px;top:877px;height:28px;line-height:28px;">周四/十三</div>
<div class="c" style="left:231px;width:69px;top:877px;height:28px;line-height:28px;">上班</div>
<div class="c" style="left:300px;width:77px;top:877px;height:28px;line-height:28px;"><span class="n">1065.71</span></div>
<div class="c" style="left:377px;width:77px;top:877px;height:28px;line-height:28px;"><span class="n">1049</span></div>
<div class="c" style="left:454px;width:77px;top:877px;height:28px;line-height:28px;"><span class="n">852.9</span></div>
<div class="c" style="left:531px;width:77px;top:877px;height:28px;line-height:28px;"><span class="n">805.2</span></div>
<div class="c" style="left:608px;width:77px;top:877px;height:28px;line-height:28px;"><span class="n">642.82</span></div>
<div class="c" style="left:685px;width:77px;top:877px;height:28px;line-height:28px;"><span class="n">301.1</span></div>
<div class="c" style="left:762px;width:77px;top:877px;height:28px;line-height:28px;"><span class="n">451.9</span></div>
<div class="c" style="left:839px;width:77px;top:877px;height:28px;line-height:28px;"><span class="n">407.4</span></div>
<div class="c" style="left:916px;width:77px;top:877px;height:28px;line-height:28px;"><span class="n">404.3</span></div>
<div class="c" style="left:993px;width:77px;top:877px;height:28px;line-height:28px;"><span class="n">375.3</span></div>
<div class="c" style="left:0px;width:29px;top:905px;height:28px;line-height:28px;"><span class="n">29</span></div>
<div class="c" style="left:29px;width:101px;top:905px;height:28px;line-height:28px;">第<span class="m">29</span>天</div>
<div class="c" style="left:130px;width:101px;top:905px;height:28px;line-height:28px;">周五/十四</div>
<div class="c" style="left:231px;width:69px;top:905px;height:28px;line-height:28px;">上班</div>
<div class="c" style="left:300px;width:77px;top:905px;height:28px;line-height:28px;"><span class="n">1123.26</span></div>
<div class="c" style="left:377px;width:77px;top:905px;height:28px;line-height:28px;"><span class="n">1111.5</span></div>
<div class="c" style="left:454px;width:77px;top:905px;height:28px;line-height:28px;"><span class="n">923.3</span></div>
<div class="c" style="left:531px;width:77px;top:905px;height:28px;line-height:28px;"><span class="n">878.38</span></div>
<div class="c" style="left:608px;width:77px;top:905px;height:28px;line-height:28px;"><span class="n">664.89</span></div>
<div class="c" style="left:685px;width:77px;top:905px;height:28px;line-height:28px;"><span class="n">316.3</span></div>
<div class="c" style="left:762px;width:77px;top:905px;height:28px;line-height:28px;"><span class="n">456.63</span></div>
<div class="c" style="left:839px;width:77px;top:905px;height:28px;line-height:28px;"><span class="n">455.5</span></div>
<div class="c" style="left:916px;width:77px;top:905px;height:28px;line-height:28px;"><span class="n">441.6</span></div>
<div class="c" style="left:993px;width:77px;top:905px;height:28px;line-height:28px;"><span class="n">401.5</span></div>
<div class="c" style="left:0px;width:29px;top:933px;height:28px;line-height:28px;"><span class="n">30</span></div>
<div class="c" style="left:29px;width:101px;top:933px;height:28px;line-height:28px;">元宵</div>
<div class="c" style="left:130px;width:101px;top:933px;height:28px;line-height:28px;">周六/十五</div>
<div class="c" style="left:231px;width:69px;top:933px;height:28px;line-height:28px;">放假</div>
<div class="c" style="left:300px;width:77px;top:933px;height:28px;line-height:28px;"><span class="n">708.82</span></div>
<div class="c" style="left:377px;width:77px;top:933px;height:28px;line-height:28px;"><span class="n">627</span></div>
<div class="c" style="left:454px;width:77px;top:933px;height:28px;line-height:28px;"><span class="n">841.3</span></div>
<div class="c" style="left:531px;width:77px;top:933px;height:28px;line-height:28px;"><span class="n">756.68</span></div>
<div class="c" style="left:608px;width:77px;top:933px;height:28px;line-height:28px;"><span class="n">499.67</span></div>
<div class="c" style="left:685px;width:77px;top:933px;height:28px;line-height:28px;"><span class="n">260.5</span></div>
<div class="c" style="left:762px;width:77px;top:933px;height:28px;line-height:28px;"><span class="n">362.64</span></div>
<div class="c" style="left:839px;width:77px;top:933px;height:28px;line-height:28px;"><span class="n">373.1</span></div>
<div class="c" style="left:916px;width:77px;top:933px;height:28px;line-height:28px;"><span class="n">410.5</span></div>
<div class="c" style="left:993px;width:77px;top:933px;height:28px;line-height:28px;"><span class="n">286.3</span></div>
<div class="c" style="left:1070px;width:108px;top:933px;height:28px;line-height:28px;">元宵</div>
<div class="c" style="left:0px;width:29px;top:961px;height:28px;line-height:28px;"><span class="n">31</span></div>
<div class="c" style="left:29px;width:101px;top:961px;height:28px;line-height:28px;">第<span class="m">31</span>天</div>
<div class="c" style="left:130px;width:101px;top:961px;height:28px;line-height:28px;">周日/十六</div>
<div class="c" style="left:231px;width:69px;top:961px;height:28px;line-height:28px;">放假</div>
<div class="c" style="left:300px;width:77px;top:961px;height:28px;line-height:28px;"><span class="n">646.58</span></div>
<div class="c" style="left:377px;width:77px;top:961px;height:28px;line-height:28px;"><span class="n">609.3</span></div>
<div class="c" style="left:454px;width:77px;top:961px;height:28px;line-height:28px;"><span class="n">734.2</span></div>
<div class="c" style="left:531px;width:77px;top:961px;height:28px;line-height:28px;"><span class="n">647.58</span></div>
<div class="c" style="left:608px;width:77px;top:961px;height:28px;line-height:28px;"><span class="n">459.24</span></div>
<div class="c" style="left:685px;width:77px;top:961px;height:28px;line-height:28px;"><span class="n">262.2</span></div>
<div class="c" style="left:762px;width:77px;top:961px;height:28px;line-height:28px;"><span class="n">351.94</span></div>
<div class="c" style="left:839px;width:77px;top:961px;height:28px;line-height:28px;"><span class="n">355.3</span></div>
<div class="c" style="left:916px;width:77px;top:961px;height:28px;line-height:28px;"><span class="n">358.4</span></div>
<div class="c" style="left:993px;width:77px;top:961px;height:28px;line-height:28px;"><span class="n">303.22</span></div>
<div class="c" style="left:0px;width:29px;top:989px;height:28px;line-height:28px;"><span class="n">32</span></div>
<div class="c" style="left:29px;width:101px;top:989px;height:28px;line-height:28px;">第<span class="m">32</span>天</div>
<div class="c" style="left:130px;width:101px;top:989px;height:28px;line-height:28px;">周一/十七</div>
<div class="c" style="left:231px;width:69px;top:989px;height:28px;line-height:28px;">上班</div>
<div class="c" style="left:300px;width:77px;top:989px;height:28px;line-height:28px;"><span class="n">1088.22</span></div>
<div class="c" style="left:377px;width:77px;top:989px;height:28px;line-height:28px;"><span class="n">1131.6</span></div>
<div class="c" style="left:454px;width:77px;top:989px;height:28px;line-height:28px;"><span class="n">890.5</span></div>
<div class="c" style="left:531px;width:77px;top:989px;height:28px;line-height:28px;"><span class="n">844.47</span></div>
<div class="c" style="left:608px;width:77px;top:989px;height:28px;line-height:28px;"><span class="n">654.98</span></div>
<div class="c" style="left:685px;width:77px;top:989px;height:28px;line-height:28px;"><span class="n">305.5</span></div>
<div class="c" style="left:762px;width:77px;top:989px;height:28px;line-height:28px;"><span class="n">423.67</span></div>
<div class="c" style="left:839px;width:77px;top:989px;height:28px;line-height:28px;"><span class="n">415.1</span></div>
<div class="c" style="left:916px;width:77px;top:989px;height:28px;line-height:28px;"><span class="n">386.7</span></div>
<div class="c" style="left:993px;width:77px;top:989px;height:28px;line-height:28px;"><span class="n">406.44</span></div>
<div class="c" style="left:0px;width:29px;top:1017px;height:28px;line-height:28px;"><span class="n">33</span></div>
<div class="c" style="left:29px;width:101px;top:1017px;height:28px;line-height:28px;">第<span class="m">33</span>天</div>
<div class="c" style="left:130px;width:101px;top:1017px;height:28px;line-height:28px;">周二/十八</div>
<div class="c" style="left:231px;width:69px;top:1017px;height:28px;line-height:28px;">上班</div>
<div class="c" style="left:300px;width:77px;top:1017px;height:28px;line-height:28px;"><span class="n">1090.42</span></div>
<div class="c" style="left:377px;width:77px;top:1017px;height:28px;line-height:28px;"><span class="n">1154.4</span></div>
<div class="c" style="left:454px;width:77px;top:1017px;height:28px;line-height:28px;"><span class="n">894.3</span></div>
<div class="c" style="left:531px;width:77px;top:1017px;height:28px;line-height:28px;"><span class="n">850.45</span></div>
<div class="c" style="left:608px;width:77px;top:1017px;height:28px;line-height:28px;"><span class="n">647.18</span></div>
<div class="c" style="left:685px;width:77px;top:1017px;height:28px;line-height:28px;"><span class="n">306.3</span></div>
<div class="c" style="left:762px;width:77px;top:1017px;height:28px;line-height:28px;"><span class="n">421.06</span></div>
<div class="c" style="left:839px;width:77px;top:1017px;height:28px;line-height:28px;"><span class="n">413.8</span></div>
<div class="c" style="left:916px;width:77px;top:1017px;height:28px;line-height:28px;"><span class="n">383.6</span></div>
<div class="c" style="left:993px;width:77px;top:1017px;height:28px;line-height:28px;"><span class="n">420.31</span></div>
<div class="c" style="left:0px;width:29px;top:1045px;height:28px;line-height:28px;"><span class="n">34</span></div>
<div class="c" style="left:29px;width:101px;top:1045px;height:28px;line-height:28px;">第<span class="m">34</span>天</div>
<div class="c" style="left:130px;width:101px;top:1045px;height:28px;line-height:28px;">周三/十九</div>
<div class="c" style="left:231px;width:69px;top:1045px;height:28px;line-height:28px;">上班</div>
<div class="c" style="left:300px;width:77px;top:1045px;height:28px;line-height:28px;"><span class="n">1100.63</span></div>
<div class="c" style="left:377px;width:77px;top:1045px;height:28px;line-height:28px;"><span class="n">1103.5</span></div>
<div class="c" style="left:454px;width:77px;top:1045px;height:28px;line-height:28px;"><span class="n">900.3</span></div>
<div class="c" style="left:531px;width:77px;top:1045px;height:28px;line-height:28px;"><span class="n">859.03</span></div>
<div class="c" style="left:608px;width:77px;top:1045px;height:28px;line-height:28px;"><span class="n">631.2</span></div>
<div class="c" style="left:685px;width:77px;top:1045px;height:28px;line-height:28px;"><span class="n">287.8</span></div>
<div class="c" style="left:762px;width:77px;top:1045px;height:28px;line-height:28px;"><span class="n">399.31</span></div>
<div class="c" style="left:839px;width:77px;top:1045px;height:28px;line-height:28px;"><span class="n">409.9</span></div>
<div class="c" style="left:916px;width:77px;top:1045px;height:28px;line-height:28px;"><span class="n">377.1</span></div>
<div class="c" style="left:993px;width:77px;top:1045px;height:28px;line-height:28px;"><span class="n">387.97</span></div>
<div class="c" style="left:0px;width:29px;top:1073px;height:28px;line-height:28px;"><span class="n">35</span></div>
<div class="c" style="left:29px;width:101px;top:1073px;height:28px;line-height:28px;">第<span class="m">35</span>天</div>
<div class="c" style="left:130px;width:101px;top:1073px;height:28px;line-height:28px;">周四/二十</div>
<div class="c" style="left:231px;width:69px;top:1073px;height:28px;line-height:28px;">上班</div>
<div class="c" style="left:300px;width:77px;top:1073px;height:28px;line-height:28px;"><span class="n">1104.2</span></div>
<div class="c" style="left:377px;width:77px;top:1073px;height:28px;line-height:28px;"><span class="n">1104.7</span></div>
<div class="c" style="left:454px;width:77px;top:1073px;height:28px;line-height:28px;"><span class="n">880.2</span></div>
<div class="c" style="left:531px;width:77px;top:1073px;height:28px;line-height:28px;"><span class="n">850.45</span></div>
<div class="c" style="left:608px;width:77px;top:1073px;height:28px;line-height:28px;"><span class="n">652.2</span></div>
<div class="c" style="left:685px;width:77px;top:1073px;height:28px;line-height:28px;"><span class="n">271.3</span></div>
<div class="c" style="left:762px;width:77px;top:1073px;height:28px;line-height:28px;"><span class="n">405.41</span></div>
<div class="c" style="left:839px;width:77px;top:1073px;height:28px;line-height:28px;"><span class="n">411.9</span></div>
<div class="c" style="left:916px;width:77px;top:1073px;height:28px;line-height:28px;"><span class="n">363</span></div>
<div class="c" style="left:993px;width:77px;top:1073px;height:28px;line-height:28px;"><span class="n">395.73</span></div>
<div class="c" style="left:0px;width:29px;top:1101px;height:28px;line-height:28px;"><span class="n">36</span></div>
<div class="c" style="left:29px;width:101px;top:1101px;height:28px;line-height:28px;">第<span class="m">36</span>天</div>
<div class="c" style="left:130px;width:101px;top:1101px;height:28px;line-height:28px;">周五/廿一</div>
<div class="c" style="left:231px;width:69px;top:1101px;height:28px;line-height:28px;">上班</div>
<div class="c" style="left:300px;width:77px;top:1101px;height:28px;line-height:28px;"><span class="n">1192.69</span></div>
<div class="c" style="left:377px;width:77px;top:1101px;height:28px;line-height:28px;"><span class="n">1243</span></div>
<div class="c" style="left:454px;width:77px;top:1101px;height:28px;line-height:28px;"><span class="n">977.2</span></div>
<div class="c" style="left:531px;width:77px;top:1101px;height:28px;line-height:28px;"><span class="n">922.15</span></div>
<div class="c" style="left:608px;width:77px;top:1101px;height:28px;line-height:28px;"><span class="n">706.37</span></div>
<div class="c" style="left:685px;width:77px;top:1101px;height:28px;line-height:28px;"><span class="n">335.7</span></div>
<div class="c" style="left:762px;width:77px;top:1101px;height:28px;line-height:28px;"><span class="n">449.58</span></div>
<div class="c" style="left:839px;width:77px;top:1101px;height:28px;line-height:28px;"><span class="n">453.6</span></div>
<div class="c" style="left:916px;width:77px;top:1101px;height:28px;line-height:28px;"><span class="n">420.7</span></div>
<div class="c" style="left:993px;width:77px;top:1101px;height:28px;line-height:28px;"><span class="n">457.48</span></div>
<div class="c" style="left:0px;width:29px;top:1129px;height:28px;line-height:28px;"><span class="n">37</span></div>
<div class="c" style="left:29px;width:101px;top:1129px;height:28px;line-height:28px;">第<span class="m">37</span>天</div>
<div class="c" style="left:130px;width:101px;top:1129px;height:28px;line-height:28px;">周六/廿二</div>
<div class="c" style="left:231px;width:69px;top:1129px;height:28px;line-height:28px;">放假</div>
<div class="c" style="left:300px;width:77px;top:1129px;height:28px;line-height:28px;"><span class="n">735.09</span></div>
<div class="c" style="left:377px;width:77px;top:1129px;height:28px;line-height:28px;"><span class="n">801</span></div>
<div class="c" style="left:454px;width:77px;top:1129px;height:28px;line-height:28px;"><span class="n">824.3</span></div>
<div class="c" style="left:531px;width:77px;top:1129px;height:28px;line-height:28px;"><span class="n">706.63</span></div>
<div class="c" style="left:608px;width:77px;top:1129px;height:28px;line-height:28px;"><span class="n">537.34</span></div>
<div class="c" style="left:685px;width:77px;top:1129px;height:28px;line-height:28px;"><span class="n">322.3</span></div>
<div class="c" style="left:762px;width:77px;top:1129px;height:28px;line-height:28px;"><span class="n">423.32</span></div>
<div class="c" style="left:839px;width:77px;top:1129px;height:28px;line-height:28px;"><span class="n">420.5</span></div>
<div class="c" style="left:916px;width:77px;top:1129px;height:28px;line-height:28px;"><span class="n">418</span></div>
<div class="c" style="left:993px;width:77px;top:1129px;height:28px;line-height:28px;"><span class="n">388.84</span></div>
<div class="c" style="left:0px;width:29px;top:1157px;height:28px;line-height:28px;"><span class="n">38</span></div>
<div class="c" style="left:29px;width:101px;top:1157px;height:28px;line-height:28px;">第<span class="m">38</span>天</div>
<div class="c" style="left:130px;width:101px;top:1157px;height:28px;line-height:28px;">周日/廿三</div>
<div class="c" style="left:231px;width:69px;top:1157px;height:28px;line-height:28px;">放假</div>
<div class="c" style="left:300px;width:77px;top:1157px;height:28px;line-height:28px;"><span class="n">657.94</span></div>
<div class="c" style="left:377px;width:77px;top:1157px;height:28px;line-height:28px;"><span class="n">717.4</span></div>
<div class="c" style="left:454px;width:77px;top:1157px;height:28px;line-height:28px;"><span class="n">792.5</span></div>
<div class="c" style="left:531px;width:77px;top:1157px;height:28px;line-height:28px;"><span class="n">691.93</span></div>
<div class="c" style="left:608px;width:77px;top:1157px;height:28px;line-height:28px;"><span class="n">479.54</span></div>
<div class="c" style="left:685px;width:77px;top:1157px;height:28px;line-height:28px;"><span class="n">283.8</span></div>
<div class="c" style="left:762px;width:77px;top:1157px;height:28px;line-height:28px;"><span class="n">378.83</span></div>
<div class="c" style="left:839px;width:77px;top:1157px;height:28px;line-height:28px;"><span class="n">372.2</span></div>
<div class="c" style="left:916px;width:77px;top:1157px;height:28px;line-height:28px;"><span class="n">356.3</span></div>
<div class="c" style="left:993px;width:77px;top:1157px;height:28px;line-height:28px;"><span class="n">372.48</span></div>
<div class="c" style="left:0px;width:29px;top:1185px;height:28px;line-height:28px;"><span class="n">39</span></div>
<div class="c" style="left:29px;width:101px;top:1185px;height:28px;line-height:28px;">第<span class="m">39</span>天</div>
<div class="c" style="left:130px;width:101px;top:1185px;height:28px;line-height:28px;">周一/廿四</div>
<div class="c" style="left:231px;width:69px;top:1185px;height:28px;line-height:28px;">上班</div>
<div class="c" style="left:300px;width:77px;top:1185px;height:28px;line-height:28px;"><span class="n">1092.62</span></div>
<div class="c" style="left:377px;width:77px;top:1185px;height:28px;line-height:28px;"><span class="n">1119.8</span></div>
<div class="c" style="left:454px;width:77px;top:1185px;height:28px;line-height:28px;"><span class="n">880.7</span></div>
<div class="c" style="left:531px;width:77px;top:1185px;height:28px;line-height:28px;"><span class="n">862.46</span></div>
<div class="c" style="left:608px;width:77px;top:1185px;height:28px;line-height:28px;"><span class="n">645.21</span></div>
<div class="c" style="left:685px;width:77px;top:1185px;height:28px;line-height:28px;"><span class="n">279.9</span></div>
<div class="c" style="left:762px;width:77px;top:1185px;height:28px;line-height:28px;"><span class="n">393.71</span></div>
<div class="c" style="left:839px;width:77px;top:1185px;height:28px;line-height:28px;"><span class="n">416</span></div>
<div class="c" style="left:916px;width:77px;top:1185px;height:28px;line-height:28px;"><span class="n">368.5</span></div>
<div class="c" style="left:993px;width:77px;top:1185px;height:28px;line-height:28px;"><span class="n">412.29</span></div>
<div class="c" style="left:0px;width:29px;top:1213px;height:28px;line-height:28px;"><span class="n">40</span></div>
<div class="c" style="left:29px;width:101px;top:1213px;height:28px;line-height:28px;">第<span class="m">40</span>天</div>
<div class="c" style="left:130px;width:101px;top:1213px;height:28px;line-height:28px;">周二/廿五</div>
<div class="c" style="left:231px;width:69px;top:1213px;height:28px;line-height:28px;">上班</div>
<div class="c" style="left:300px;width:77px;top:1213px;height:28px;line-height:28px;"><span class="n">1078.61</span></div>
<div class="c" style="left:377px;width:77px;top:1213px;height:28px;line-height:28px;"><span class="n">1110.2</span></div>
<div class="c" style="left:454px;width:77px;top:1213px;height:28px;line-height:28px;"><span class="n">905.4</span></div>
<div class="c" style="left:531px;width:77px;top:1213px;height:28px;line-height:28px;"><span class="n">864.17</span></div>
<div class="c" style="left:608px;width:77px;top:1213px;height:28px;line-height:28px;"><span class="n">639.81</span></div>
<div class="c" style="left:685px;width:77px;top:1213px;height:28px;line-height:28px;"><span class="n">271</span></div>
<div class="c" style="left:762px;width:77px;top:1213px;height:28px;line-height:28px;"><span class="n">385.96</span></div>
<div class="c" style="left:839px;width:77px;top:1213px;height:28px;line-height:28px;"><span class="n">411.7</span></div>
<div class="c" style="left:916px;width:77px;top:1213px;height:28px;line-height:28px;"><span class="n">360.3</span></div>
<div class="c" style="left:993px;width:77px;top:1213px;height:28px;line-height:28px;"><span class="n">395.4</span></div>
<div class="c" style="left:1070px;width:108px;top:1213px;height:28px;line-height:28px;text-align:left;padding-left:3px;">全国春运结束</div>
<div class="hl" style="left:0;top:56px;width:1179px"></div>
<div class="hl" style="left:0;top:112px;width:1179px"></div>
<div class="hl" style="left:0;top:146px;width:1179px"></div>
<div class="hl" style="left:0;top:174px;width:1179px"></div>
<div class="hl" style="left:0;top:202px;width:1179px"></div>
<div class="hl" style="left:0;top:230px;width:1179px"></div>
<div class="hl" style="left:0;top:258px;width:1179px"></div>
<div class="hl" style="left:0;top:286px;width:1179px"></div>
<div class="hl" style="left:0;top:314px;width:1179px"></div>
<div class="hl" style="left:0;top:342px;width:1179px"></div>
<div class="hl" style="left:0;top:370px;width:1179px"></div>
<div class="hl" style="left:0;top:398px;width:1179px"></div>
<div class="hl" style="left:0;top:426px;width:1179px"></div>
<div class="hl" style="left:0;top:454px;width:1179px"></div>
<div class="hl" style="left:0;top:482px;width:1179px"></div>
<div class="hl" style="left:0;top:510px;width:1179px"></div>
<div class="hl" style="left:0;top:538px;width:1179px"></div>
<div class="hl" style="left:0;top:566px;width:1179px"></div>
<div class="hl" style="left:0;top:594px;width:1179px"></div>
<div class="hl" style="left:0;top:622px;width:1179px"></div>
<div class="hl" style="left:0;top:650px;width:1179px"></div>
<div class="hl" style="left:0;top:678px;width:1179px"></div>
<div class="hl" style="left:0;top:706px;width:1179px"></div>
<div class="hl" style="left:0;top:734px;width:1179px"></div>
<div class="hl" style="left:0;top:762px;width:1179px"></div>
<div class="hl" style="left:0;top:790px;width:1179px"></div>
<div class="hl" style="left:0;top:818px;width:1179px"></div>
<div class="hl" style="left:0;top:846px;width:1179px"></div>
<div class="hl" style="left:0;top:874px;width:1179px"></div>
<div class="hl" style="left:0;top:902px;width:1179px"></div>
<div class="hl" style="left:0;top:930px;width:1179px"></div>
<div class="hl" style="left:0;top:958px;width:1179px"></div>
<div class="hl" style="left:0;top:986px;width:1179px"></div>
<div class="hl" style="left:0;top:1014px;width:1179px"></div>
<div class="hl" style="left:0;top:1042px;width:1179px"></div>
<div class="hl" style="left:0;top:1070px;width:1179px"></div>
<div class="hl" style="left:0;top:1098px;width:1179px"></div>
<div class="hl" style="left:0;top:1126px;width:1179px"></div>
<div class="hl" style="left:0;top:1154px;width:1179px"></div>
<div class="hl" style="left:0;top:1182px;width:1179px"></div>
<div class="hl" style="left:0;top:1210px;width:1179px"></div>
<div class="hl" style="left:0;top:1238px;width:1179px"></div>
<div class="vl" style="left:0px;top:56px;height:1183px"></div>
<div class="vl" style="left:29px;top:56px;height:1183px"></div>
<div class="vl" style="left:130px;top:56px;height:1183px"></div>
<div class="vl" style="left:231px;top:56px;height:1183px"></div>
<div class="vl" style="left:300px;top:56px;height:1183px"></div>
<div class="vl" style="left:377px;top:56px;height:1183px"></div>
<div class="vl" style="left:454px;top:56px;height:1183px"></div>
<div class="vl" style="left:531px;top:56px;height:1183px"></div>
<div class="vl" style="left:608px;top:56px;height:1183px"></div>
<div class="vl" style="left:685px;top:56px;height:1183px"></div>
<div class="vl" style="left:762px;top:56px;height:1183px"></div>
<div class="vl" style="left:839px;top:56px;height:1183px"></div>
<div class="vl" style="left:916px;top:56px;height:1183px"></div>
<div class="vl" style="left:993px;top:56px;height:1183px"></div>
<div class="vl" style="left:1070px;top:56px;height:1183px"></div>
<div class="vl" style="left:1178px;top:56px;height:1183px"></div>
<div class="ttl" style="top:1246px;">2024年春运期间中国内地地铁客运量前10城数据（万人次）</div>
<div class="a" style="left:0;top:1294px;width:1179px;height:28px;background:#fff2cc"></div>
<div class="a" style="left:0;top:1322px;width:1179px;height:28px;background:#bdd7ee"></div>
<div class="a" style="left:0;top:1350px;width:1179px;height:28px;background:#c6e0b4"></div>
<div class="a" style="left:0;top:1378px;width:1179px;height:28px;background:#d9d9d9"></div>
<div class="a" style="left:0;top:1406px;width:1179px;height:28px;background:#f8cbad"></div>
<div class="c" style="left:0px;width:300px;top:1297px;height:28px;line-height:28px;">对比项目</div>
<div class="c" style="left:300px;width:77px;top:1297px;height:28px;line-height:28px;">北京</div>
<div class="c" style="left:377px;width:77px;top:1297px;height:28px;line-height:28px;">上海</div>
<div class="c" style="left:454px;width:77px;top:1297px;height:28px;line-height:28px;">广州</div>
<div class="c" style="left:531px;width:77px;top:1297px;height:28px;line-height:28px;">深圳</div>
<div class="c" style="left:608px;width:77px;top:1297px;height:28px;line-height:28px;">成都</div>
<div class="c" style="left:685px;width:77px;top:1297px;height:28px;line-height:28px;">南京</div>
<div class="c" style="left:762px;width:77px;top:1297px;height:28px;line-height:28px;">武汉</div>
<div class="c" style="left:839px;width:77px;top:1297px;height:28px;line-height:28px;">重庆</div>
<div class="c" style="left:916px;width:77px;top:1297px;height:28px;line-height:28px;">西安</div>
<div class="c" style="left:993px;width:77px;top:1297px;height:28px;line-height:28px;">杭州</div>
<div class="c" style="left:1070px;width:108px;top:1297px;height:28px;line-height:28px;">备注</div>
<div class="c" style="left:0px;width:300px;top:1325px;height:28px;line-height:28px;color:#000;"><span class="m">2024</span>春运合计（<span class="m">40</span>天）</div>
<div class="c" style="left:300px;width:77px;top:1325px;height:28px;line-height:28px;color:#000;"><span class="n">33395.53</span></div>
<div class="c" style="left:377px;width:77px;top:1325px;height:28px;line-height:28px;color:#000;"><span class="n">33975.27</span></div>
<div class="c" style="left:454px;width:77px;top:1325px;height:28px;line-height:28px;color:#000;"><span class="n">29685.4</span></div>
<div class="c" style="left:531px;width:77px;top:1325px;height:28px;line-height:28px;color:#000;"><span class="n">26373.72</span></div>
<div class="c" style="left:608px;width:77px;top:1325px;height:28px;line-height:28px;color:#000;"><span class="n">20878.41</span></div>
<div class="c" style="left:685px;width:77px;top:1325px;height:28px;line-height:28px;color:#000;"><span class="n">10179.8</span></div>
<div class="c" style="left:762px;width:77px;top:1325px;height:28px;line-height:28px;color:#000;"><span class="n">13879.06</span></div>
<div class="c" style="left:839px;width:77px;top:1325px;height:28px;line-height:28px;color:#000;"><span class="n">14793.3</span></div>
<div class="c" style="left:916px;width:77px;top:1325px;height:28px;line-height:28px;color:#000;"><span class="n">14499.2</span></div>
<div class="c" style="left:993px;width:77px;top:1325px;height:28px;line-height:28px;color:#000;"><span class="n">12808.11</span></div>
<div class="c" style="left:0px;width:300px;top:1353px;height:28px;line-height:28px;color:#000;"><span class="m">2024</span>春运日均（<span class="m">40</span>天）</div>
<div class="c" style="left:300px;width:77px;top:1353px;height:28px;line-height:28px;color:#000;"><span class="n">834.89</span></div>
<div class="c" style="left:377px;width:77px;top:1353px;height:28px;line-height:28px;color:#000;"><span class="n">849.38</span></div>
<div class="c" style="left:454px;width:77px;top:1353px;height:28px;line-height:28px;color:#000;"><span class="n">742.14</span></div>
<div class="c" style="left:531px;width:77px;top:1353px;height:28px;line-height:28px;color:#000;"><span class="n">659.34</span></div>
<div class="c" style="left:608px;width:77px;top:1353px;height:28px;line-height:28px;color:#000;"><span class="n">521.96</span></div>
<div class="c" style="left:685px;width:77px;top:1353px;height:28px;line-height:28px;color:#000;"><span class="n">254.50</span></div>
<div class="c" style="left:762px;width:77px;top:1353px;height:28px;line-height:28px;color:#000;"><span class="n">346.98</span></div>
<div class="c" style="left:839px;width:77px;top:1353px;height:28px;line-height:28px;color:#000;"><span class="n">369.83</span></div>
<div class="c" style="left:916px;width:77px;top:1353px;height:28px;line-height:28px;color:#000;"><span class="n">362.48</span></div>
<div class="c" style="left:993px;width:77px;top:1353px;height:28px;line-height:28px;color:#000;"><span class="n">320.20</span></div>
<div class="c" style="left:0px;width:300px;top:1381px;height:28px;line-height:28px;color:#808080;"><span class="m">2023</span>春运日均（<span class="m">40</span>天）</div>
<div class="c" style="left:300px;width:77px;top:1381px;height:28px;line-height:28px;color:#808080;"><span class="n">670.26</span></div>
<div class="c" style="left:377px;width:77px;top:1381px;height:28px;line-height:28px;color:#808080;"><span class="n">723.58</span></div>
<div class="c" style="left:454px;width:77px;top:1381px;height:28px;line-height:28px;color:#808080;"><span class="n">609.44</span></div>
<div class="c" style="left:531px;width:77px;top:1381px;height:28px;line-height:28px;color:#808080;"><span class="n">511.77</span></div>
<div class="c" style="left:608px;width:77px;top:1381px;height:28px;line-height:28px;color:#808080;"><span class="n">442.93</span></div>
<div class="c" style="left:685px;width:77px;top:1381px;height:28px;line-height:28px;color:#808080;"><span class="n">195.66</span></div>
<div class="c" style="left:762px;width:77px;top:1381px;height:28px;line-height:28px;color:#808080;"><span class="n">256.68</span></div>
<div class="c" style="left:839px;width:77px;top:1381px;height:28px;line-height:28px;color:#808080;"><span class="n">284.73</span></div>
<div class="c" style="left:916px;width:77px;top:1381px;height:28px;line-height:28px;color:#808080;"><span class="n">282.26</span></div>
<div class="c" style="left:993px;width:77px;top:1381px;height:28px;line-height:28px;color:#808080;"><span class="n">252.71</span></div>
<div class="c" style="left:0px;width:300px;top:1409px;height:28px;line-height:28px;color:#000;"><span class="m">2024</span>春运对比<span class="m">2023</span>春运增幅（<span class="m">40</span>天）</div>
<div class="c" style="left:300px;width:77px;top:1409px;height:28px;line-height:28px;color:#ff0000;"><span class="n">24.56%</span></div>
<div class="c" style="left:377px;width:77px;top:1409px;height:28px;line-height:28px;color:#ff0000;"><span class="n">17.39%</span></div>
<div class="c" style="left:454px;width:77px;top:1409px;height:28px;line-height:28px;color:#ff0000;"><span class="n">21.77%</span></div>
<div class="c" style="left:531px;width:77px;top:1409px;height:28px;line-height:28px;color:#ff0000;"><span class="n">28.84%</span></div>
<div class="c" style="left:608px;width:77px;top:1409px;height:28px;line-height:28px;color:#ff0000;"><span class="n">17.84%</span></div>
<div class="c" style="left:685px;width:77px;top:1409px;height:28px;line-height:28px;color:#ff0000;"><span class="n">30.07%</span></div>
<div class="c" style="left:762px;width:77px;top:1409px;height:28px;line-height:28px;color:#ff0000;"><span class="n">35.18%</span></div>
<div class="c" style="left:839px;width:77px;top:1409px;height:28px;line-height:28px;color:#ff0000;"><span class="n">29.89%</span></div>
<div class="c" style="left:916px;width:77px;top:1409px;height:28px;line-height:28px;color:#ff0000;"><span class="n">28.42%</span></div>
<div class="c" style="left:993px;width:77px;top:1409px;height:28px;line-height:28px;color:#ff0000;"><span class="n">26.71%</span></div>
<div class="hl" style="left:0;top:1294px;width:1179px"></div>
<div class="hl" style="left:0;top:1322px;width:1179px"></div>
<div class="hl" style="left:0;top:1350px;width:1179px"></div>
<div class="hl" style="left:0;top:1378px;width:1179px"></div>
<div class="hl" style="left:0;top:1406px;width:1179px"></div>
<div class="hl" style="left:0;top:1434px;width:1179px"></div>
<div class="vl" style="left:0px;top:1294px;height:141px"></div>
<div class="vl" style="left:300px;top:1294px;height:141px"></div>
<div class="vl" style="left:377px;top:1294px;height:141px"></div>
<div class="vl" style="left:454px;top:1294px;height:141px"></div>
<div class="vl" style="left:531px;top:1294px;height:141px"></div>
<div class="vl" style="left:608px;top:1294px;height:141px"></div>
<div class="vl" style="left:685px;top:1294px;height:141px"></div>
<div class="vl" style="left:762px;top:1294px;height:141px"></div>
<div class="vl" style="left:839px;top:1294px;height:141px"></div>
<div class="vl" style="left:916px;top:1294px;height:141px"></div>
<div class="vl" style="left:993px;top:1294px;height:141px"></div>
<div class="vl" style="left:1070px;top:1294px;height:141px"></div>
<div class="vl" style="left:1178px;top:1294px;height:141px"></div>
<svg class="a" style="left:0;top:1434px" width="1179" height="960" viewBox="0 1434 1179 960"><line x1="37" y1="2297.5" x2="1165" y2="2297.5" stroke="#868686" stroke-width="1"/><text x="33" y="2302.0" text-anchor="end" font-family="Liberation Sans" font-size="12" fill="#000">0</text><line x1="37" y1="2234.5" x2="1165" y2="2234.5" stroke="#868686" stroke-width="1"/><text x="33" y="2239.0" text-anchor="end" font-family="Liberation Sans" font-size="12" fill="#000">100</text><line x1="37" y1="2171.5" x2="1165" y2="2171.5" stroke="#868686" stroke-width="1"/><text x="33" y="2176.0" text-anchor="end" font-family="Liberation Sans" font-size="12" fill="#000">200</text><line x1="37" y1="2108.5" x2="1165" y2="2108.5" stroke="#868686" stroke-width="1"/><text x="33" y="2113.0" text-anchor="end" font-family="Liberation Sans" font-size="12" fill="#000">300</text><line x1="37" y1="2046.5" x2="1165" y2="2046.5" stroke="#868686" stroke-width="1"/><text x="33" y="2051.0" text-anchor="end" font-family="Liberation Sans" font-size="12" fill="#000">400</text><line x1="37" y1="1983.5" x2="1165" y2="1983.5" stroke="#868686" stroke-width="1"/><text x="33" y="1988.0" text-anchor="end" font-family="Liberation Sans" font-size="12" fill="#000">500</text><line x1="37" y1="1920.5" x2="1165" y2="1920.5" stroke="#868686" stroke-width="1"/><text x="33" y="1925.0" text-anchor="end" font-family="Liberation Sans" font-size="12" fill="#000">600</text><line x1="37" y1="1857.5" x2="1165" y2="1857.5" stroke="#868686" stroke-width="1"/><text x="33" y="1862.0" text-anchor="end" font-family="Liberation Sans" font-size="12" fill="#000">700</text><line x1="37" y1="1794.5" x2="1165" y2="1794.5" stroke="#868686" stroke-width="1"/><text x="33" y="1799.0" text-anchor="end" font-family="Liberation Sans" font-size="12" fill="#000">800</text><line x1="37" y1="1731.5" x2="1165" y2="1731.5" stroke="#868686" stroke-width="1"/><text x="33" y="1736.0" text-anchor="end" font-family="Liberation Sans" font-size="12" fill="#000">900</text><line x1="37" y1="1668.5" x2="1165" y2="1668.5" stroke="#868686" stroke-width="1"/><text x="33" y="1673.0" text-anchor="end" font-family="Liberation Sans" font-size="12" fill="#000">1000</text><line x1="37" y1="1606.5" x2="1165" y2="1606.5" stroke="#868686" stroke-width="1"/><text x="33" y="1611.0" text-anchor="end" font-family="Liberation Sans" font-size="12" fill="#000">1100</text><line x1="37" y1="1543.5" x2="1165" y2="1543.5" stroke="#868686" stroke-width="1"/><text x="33" y="1548.0" text-anchor="end" font-family="Liberation Sans" font-size="12" fill="#000">1200</text><line x1="37" y1="1480.5" x2="1165" y2="1480.5" stroke="#868686" stroke-width="1"/><text x="33" y="1485.0" text-anchor="end" font-family="Liberation Sans" font-size="12" fill="#000">1300</text><line x1="42.5" y1="1449" x2="42.5" y2="2303" stroke="#868686" stroke-width="1"/><line x1="70.5" y1="2297" x2="70.5" y2="2303" stroke="#868686" stroke-width="1"/><text transform="translate(69.0,2306) rotate(-90)" text-anchor="end" dominant-baseline="central" font-family="Liberation Sans" font-size="12" letter-spacing=".6">第1天</text><line x1="98.5" y1="2297" x2="98.5" y2="2303" stroke="#868686" stroke-width="1"/><text transform="translate(97.0,2306) rotate(-90)" text-anchor="end" dominant-baseline="central" font-family="Liberation Sans" font-size="12" letter-spacing=".6">第2天</text><line x1="126.5" y1="2297" x2="126.5" y2="2303" stroke="#868686" stroke-width="1"/><text transform="translate(125.0,2306) rotate(-90)" text-anchor="end" dominant-baseline="central" font-family="Liberation Sans" font-size="12" letter-spacing=".6">第3天</text><line x1="154.5" y1="2297" x2="154.5" y2="2303" stroke="#868686" stroke-width="1"/><text transform="translate(153.0,2306) rotate(-90)" text-anchor="end" dominant-baseline="central" font-family="Liberation Sans" font-size="12" letter-spacing=".6">第4天</text><line x1="182.5" y1="2297" x2="182.5" y2="2303" stroke="#868686" stroke-width="1"/><text transform="translate(181.0,2306) rotate(-90)" text-anchor="end" dominant-baseline="central" font-family="Liberation Sans" font-size="12" letter-spacing=".6">第5天</text><line x1="210.5" y1="2297" x2="210.5" y2="2303" stroke="#868686" stroke-width="1"/><text transform="translate(209.0,2306) rotate(-90)" text-anchor="end" dominant-baseline="central" font-family="Liberation Sans" font-size="12" letter-spacing=".6">第6天</text><line x1="238.5" y1="2297" x2="238.5" y2="2303" stroke="#868686" stroke-width="1"/><text transform="translate(237.0,2306) rotate(-90)" text-anchor="end" dominant-baseline="central" font-family="Liberation Sans" font-size="12" letter-spacing=".6">第7天</text><line x1="266.5" y1="2297" x2="266.5" y2="2303" stroke="#868686" stroke-width="1"/><text transform="translate(265.0,2306) rotate(-90)" text-anchor="end" dominant-baseline="central" font-family="Liberation Sans" font-size="12" letter-spacing=".6">第8天</text><line x1="294.5" y1="2297" x2="294.5" y2="2303" stroke="#868686" stroke-width="1"/><text transform="translate(293.0,2306) rotate(-90)" text-anchor="end" dominant-baseline="central" font-family="Liberation Sans" font-size="12" letter-spacing=".6">第9天</text><line x1="322.5" y1="2297" x2="322.5" y2="2303" stroke="#868686" stroke-width="1"/><text transform="translate(321.0,2306) rotate(-90)" text-anchor="end" dominant-baseline="central" font-family="Liberation Sans" font-size="12" letter-spacing=".6">第10天</text><line x1="350.5" y1="2297" x2="350.5" y2="2303" stroke="#868686" stroke-width="1"/><text transform="translate(349.0,2306) rotate(-90)" text-anchor="end" dominant-baseline="central" font-family="Liberation Sans" font-size="12" letter-spacing=".6">第11天</text><line x1="378.5" y1="2297" x2="378.5" y2="2303" stroke="#868686" stroke-width="1"/><text transform="translate(377.0,2306) rotate(-90)" text-anchor="end" dominant-baseline="central" font-family="Liberation Sans" font-size="12" letter-spacing=".6">第12天</text><line x1="406.5" y1="2297" x2="406.5" y2="2303" stroke="#868686" stroke-width="1"/><text transform="translate(405.0,2306) rotate(-90)" text-anchor="end" dominant-baseline="central" font-family="Liberation Sans" font-size="12" letter-spacing=".6">第13天</text><line x1="435.5" y1="2297" x2="435.5" y2="2303" stroke="#868686" stroke-width="1"/><text transform="translate(434.0,2306) rotate(-90)" text-anchor="end" dominant-baseline="central" font-family="Liberation Sans" font-size="12" letter-spacing=".6">第14天</text><line x1="463.5" y1="2297" x2="463.5" y2="2303" stroke="#868686" stroke-width="1"/><text transform="translate(462.0,2306) rotate(-90)" text-anchor="end" dominant-baseline="central" font-family="Liberation Sans" font-size="12" letter-spacing=".6">除夕</text><line x1="491.5" y1="2297" x2="491.5" y2="2303" stroke="#868686" stroke-width="1"/><text transform="translate(490.0,2306) rotate(-90)" text-anchor="end" dominant-baseline="central" font-family="Liberation Sans" font-size="12" letter-spacing=".6">第16天</text><line x1="519.5" y1="2297" x2="519.5" y2="2303" stroke="#868686" stroke-width="1"/><text transform="translate(518.0,2306) rotate(-90)" text-anchor="end" dominant-baseline="central" font-family="Liberation Sans" font-size="12" letter-spacing=".6">第17天</text><line x1="547.5" y1="2297" x2="547.5" y2="2303" stroke="#868686" stroke-width="1"/><text transform="translate(546.0,2306) rotate(-90)" text-anchor="end" dominant-baseline="central" font-family="Liberation Sans" font-size="12" letter-spacing=".6">第18天</text><line x1="575.5" y1="2297" x2="575.5" y2="2303" stroke="#868686" stroke-width="1"/><text transform="translate(574.0,2306) rotate(-90)" text-anchor="end" dominant-baseline="central" font-family="Liberation Sans" font-size="12" letter-spacing=".6">第19天</text><line x1="603.5" y1="2297" x2="603.5" y2="2303" stroke="#868686" stroke-width="1"/><text transform="translate(602.0,2306) rotate(-90)" text-anchor="end" dominant-baseline="central" font-family="Liberation Sans" font-size="12" letter-spacing=".6">第20天</text><line x1="631.5" y1="2297" x2="631.5" y2="2303" stroke="#868686" stroke-width="1"/><text transform="translate(630.0,2306) rotate(-90)" text-anchor="end" dominant-baseline="central" font-family="Liberation Sans" font-size="12" letter-spacing=".6">第21天</text><line x1="659.5" y1="2297" x2="659.5" y2="2303" stroke="#868686" stroke-width="1"/><text transform="translate(658.0,2306) rotate(-90)" text-anchor="end" dominant-baseline="central" font-family="Liberation Sans" font-size="12" letter-spacing=".6">第22天</text><line x1="687.5" y1="2297" x2="687.5" y2="2303" stroke="#868686" stroke-width="1"/><text transform="translate(686.0,2306) rotate(-90)" text-anchor="end" dominant-baseline="central" font-family="Liberation Sans" font-size="12" letter-spacing=".6">第23天</text><line x1="715.5" y1="2297" x2="715.5" y2="2303" stroke="#868686" stroke-width="1"/><text transform="translate(714.0,2306) rotate(-90)" text-anchor="end" dominant-baseline="central" font-family="Liberation Sans" font-size="12" letter-spacing=".6">第24天</text><line x1="743.5" y1="2297" x2="743.5" y2="2303" stroke="#868686" stroke-width="1"/><text transform="translate(742.0,2306) rotate(-90)" text-anchor="end" dominant-baseline="central" font-family="Liberation Sans" font-size="12" letter-spacing=".6">第25天</text><line x1="772.5" y1="2297" x2="772.5" y2="2303" stroke="#868686" stroke-width="1"/><text transform="translate(771.0,2306) rotate(-90)" text-anchor="end" dominant-baseline="central" font-family="Liberation Sans" font-size="12" letter-spacing=".6">第26天</text><line x1="800.5" y1="2297" x2="800.5" y2="2303" stroke="#868686" stroke-width="1"/><text transform="translate(799.0,2306) rotate(-90)" text-anchor="end" dominant-baseline="central" font-family="Liberation Sans" font-size="12" letter-spacing=".6">第27天</text><line x1="828.5" y1="2297" x2="828.5" y2="2303" stroke="#868686" stroke-width="1"/><text transform="translate(827.0,2306) rotate(-90)" text-anchor="end" dominant-baseline="central" font-family="Liberation Sans" font-size="12" letter-spacing=".6">第28天</text><line x1="856.5" y1="2297" x2="856.5" y2="2303" stroke="#868686" stroke-width="1"/><text transform="translate(855.0,2306) rotate(-90)" text-anchor="end" dominant-baseline="central" font-family="Liberation Sans" font-size="12" letter-spacing=".6">第29天</text><line x1="884.5" y1="2297" x2="884.5" y2="2303" stroke="#868686" stroke-width="1"/><text transform="translate(883.0,2306) rotate(-90)" text-anchor="end" dominant-baseline="central" font-family="Liberation Sans" font-size="12" letter-spacing=".6">元宵</text><line x1="912.5" y1="2297" x2="912.5" y2="2303" stroke="#868686" stroke-width="1"/><text transform="translate(911.0,2306) rotate(-90)" text-anchor="end" dominant-baseline="central" font-family="Liberation Sans" font-size="12" letter-spacing=".6">第31天</text><line x1="940.5" y1="2297" x2="940.5" y2="2303" stroke="#868686" stroke-width="1"/><text transform="translate(939.0,2306) rotate(-90)" text-anchor="end" dominant-baseline="central" font-family="Liberation Sans" font-size="12" letter-spacing=".6">第32天</text><line x1="968.5" y1="2297" x2="968.5" y2="2303" stroke="#868686" stroke-width="1"/><text transform="translate(967.0,2306) rotate(-90)" text-anchor="end" dominant-baseline="central" font-family="Liberation Sans" font-size="12" letter-spacing=".6">第33天</text><line x1="996.5" y1="2297" x2="996.5" y2="2303" stroke="#868686" stroke-width="1"/><text transform="translate(995.0,2306) rotate(-90)" text-anchor="end" dominant-baseline="central" font-family="Liberation Sans" font-size="12" letter-spacing=".6">第34天</text><line x1="1024.5" y1="2297" x2="1024.5" y2="2303" stroke="#868686" stroke-width="1"/><text transform="translate(1023.0,2306) rotate(-90)" text-anchor="end" dominant-baseline="central" font-family="Liberation Sans" font-size="12" letter-spacing=".6">第35天</text><line x1="1052.5" y1="2297" x2="1052.5" y2="2303" stroke="#868686" stroke-width="1"/><text transform="translate(1051.0,2306) rotate(-90)" text-anchor="end" dominant-baseline="central" font-family="Liberation Sans" font-size="12" letter-spacing=".6">第36天</text><line x1="1080.5" y1="2297" x2="1080.5" y2="2303" stroke="#868686" stroke-width="1"/><text transform="translate(1079.0,2306) rotate(-90)" text-anchor="end" dominant-baseline="central" font-family="Liberation Sans" font-size="12" letter-spacing=".6">第37天</text><line x1="1108.5" y1="2297" x2="1108.5" y2="2303" stroke="#868686" stroke-width="1"/><text transform="translate(1107.0,2306) rotate(-90)" text-anchor="end" dominant-baseline="central" font-family="Liberation Sans" font-size="12" letter-spacing=".6">第38天</text><line x1="1137.5" y1="2297" x2="1137.5" y2="2303" stroke="#868686" stroke-width="1"/><text transform="translate(1136.0,2306) rotate(-90)" text-anchor="end" dominant-baseline="central" font-family="Liberation Sans" font-size="12" letter-spacing=".6">第39天</text><line x1="1165.5" y1="2297" x2="1165.5" y2="2303" stroke="#868686" stroke-width="1"/><text transform="translate(1164.0,2306) rotate(-90)" text-anchor="end" dominant-baseline="central" font-family="Liberation Sans" font-size="12" letter-spacing=".6">第40天</text><line x1="245.0" y1="1491" x2="274.0" y2="1491" stroke="#1070c0" stroke-width="2.6"/><text x="278.0" y="1496" font-family="Liberation Sans" font-size="12" letter-spacing="1">北京</text><line x1="245.0" y1="1510" x2="272.0" y2="1510" stroke="#1070c0" stroke-width="1.6" stroke-dasharray="1.6 2.4" opacity=".6"/><line x1="316.5" y1="1491" x2="345.5" y2="1491" stroke="#c55a11" stroke-width="2.6"/><text x="349.5" y="1496" font-family="Liberation Sans" font-size="12" letter-spacing="1">上海</text><line x1="316.5" y1="1510" x2="343.5" y2="1510" stroke="#c55a11" stroke-width="1.6" stroke-dasharray="1.6 2.4" opacity=".6"/><line x1="388.0" y1="1491" x2="417.0" y2="1491" stroke="#ffc000" stroke-width="2.6"/><text x="421.0" y="1496" font-family="Liberation Sans" font-size="12" letter-spacing="1">广州</text><line x1="388.0" y1="1510" x2="415.0" y2="1510" stroke="#ffc000" stroke-width="1.6" stroke-dasharray="1.6 2.4" opacity=".6"/><line x1="459.5" y1="1491" x2="488.5" y2="1491" stroke="#92d050" stroke-width="2.6"/><text x="492.5" y="1496" font-family="Liberation Sans" font-size="12" letter-spacing="1">深圳</text><line x1="459.5" y1="1510" x2="486.5" y2="1510" stroke="#92d050" stroke-width="1.6" stroke-dasharray="1.6 2.4" opacity=".6"/><line x1="531.0" y1="1491" x2="560.0" y2="1491" stroke="#00b0f0" stroke-width="2.6"/><text x="564.0" y="1496" font-family="Liberation Sans" font-size="12" letter-spacing="1">成都</text><line x1="531.0" y1="1510" x2="558.0" y2="1510" stroke="#00b0f0" stroke-width="1.6" stroke-dasharray="1.6 2.4" opacity=".6"/><line x1="602.5" y1="1491" x2="631.5" y2="1491" stroke="#c00000" stroke-width="2.6"/><text x="635.5" y="1496" font-family="Liberation Sans" font-size="12" letter-spacing="1">南京</text><line x1="602.5" y1="1510" x2="629.5" y2="1510" stroke="#c00000" stroke-width="1.6" stroke-dasharray="1.6 2.4" opacity=".6"/><line x1="674.0" y1="1491" x2="703.0" y2="1491" stroke="#bf9000" stroke-width="2.6"/><text x="707.0" y="1496" font-family="Liberation Sans" font-size="12" letter-spacing="1">武汉</text><line x1="674.0" y1="1510" x2="701.0" y2="1510" stroke="#bf9000" stroke-width="1.6" stroke-dasharray="1.6 2.4" opacity=".6"/><line x1="745.5" y1="1491" x2="774.5" y2="1491" stroke="#2bbf9c" stroke-width="2.6"/><text x="778.5" y="1496" font-family="Liberation Sans" font-size="12" letter-spacing="1">重庆</text><line x1="745.5" y1="1510" x2="772.5" y2="1510" stroke="#2bbf9c" stroke-width="1.6" stroke-dasharray="1.6 2.4" opacity=".6"/><line x1="817.0" y1="1491" x2="846.0" y2="1491" stroke="#7030a0" stroke-width="2.6"/><text x="850.0" y="1496" font-family="Liberation Sans" font-size="12" letter-spacing="1">西安</text><line x1="817.0" y1="1510" x2="844.0" y2="1510" stroke="#7030a0" stroke-width="1.6" stroke-dasharray="1.6 2.4" opacity=".6"/><line x1="888.5" y1="1491" x2="917.5" y2="1491" stroke="#ff99ff" stroke-width="2.6"/><text x="921.5" y="1496" font-family="Liberation Sans" font-size="12" letter-spacing="1">杭州</text><line x1="888.5" y1="1510" x2="915.5" y2="1510" stroke="#ff99ff" stroke-width="1.6" stroke-dasharray="1.6 2.4" opacity=".6"/><polyline points="69.5,2034.9 97.6,2054.4 125.7,1799.2 153.7,1794.2 181.8,1795.5 209.9,1795.5 238.0,1781.6 266.1,2020.5 294.1,2053.1 322.2,1847.0 350.3,1865.8 378.4,1916.8 406.5,1996.6 434.5,2086.5 462.6,2205.9 490.7,2174.4 518.8,2158.7 546.9,2134.8 574.9,2100.9 603.0,2075.8 631.1,2042.5 659.2,1888.5 687.3,1852.7 715.3,1777.2 743.4,1742.0 771.5,1730.1 799.6,1721.3 827.7,1691.1 855.7,1935.0 883.8,1949.4 911.9,1686.1 940.0,1669.8 968.1,1659.7 996.1,1662.8 1024.2,1613.8 1052.3,1838.2 1080.4,1950.1 1108.5,1618.2 1136.5,1592.5 1164.6,1613.8" fill="none" stroke="#1070c0" stroke-width="2" stroke-dasharray="2 2" opacity=".5"/><polyline points="69.5,2002.2 97.6,2028.0 125.7,1761.5 153.7,1756.5 181.8,1753.3 209.9,1762.8 238.0,1769.7 266.1,2015.4 294.1,2039.3 322.2,1796.1 350.3,1810.5 378.4,1847.0 406.5,1923.7 434.5,1999.1 462.6,2163.1 490.7,2152.4 518.8,2133.0 546.9,2096.5 574.9,2081.4 603.0,2023.0 631.1,2037.4 659.2,1872.8 687.3,1830.7 715.3,1727.6 743.4,1692.4 771.5,1679.2 799.6,1684.8 827.7,1655.9 855.7,1885.3 883.8,1926.8 911.9,1658.4 940.0,1626.4 968.1,1626.4 996.1,1659.7 1024.2,1589.3 1052.3,1831.9 1080.4,1951.3 1108.5,1618.2 1136.5,1557.9 1164.6,1576.7" fill="none" stroke="#c55a11" stroke-width="2" stroke-dasharray="2 2" opacity=".5"/><polyline points="69.5,1957.6 97.6,1999.7 125.7,1896.0 153.7,1899.8 181.8,1900.4 209.9,1902.3 238.0,1882.8 266.1,1959.5 294.1,2004.7 322.2,1923.0 350.3,1941.3 378.4,1975.8 406.5,2009.8 434.5,2045.6 462.6,2146.8 490.7,2119.8 518.8,2119.8 546.9,2103.4 574.9,2086.5 603.0,2060.7 631.1,2033.0 659.2,1959.5 687.3,1891.6 715.3,1857.0 743.4,1828.8 771.5,1814.3 799.6,1814.3 827.7,1791.1 855.7,1901.0 883.8,1955.1 911.9,1792.3 940.0,1783.5 968.1,1771.6 996.1,1771.6 1024.2,1727.6 1052.3,1797.3 1080.4,1836.9 1108.5,1757.7 1136.5,1730.1 1164.6,1738.9" fill="none" stroke="#ffc000" stroke-width="2" stroke-dasharray="2 2" opacity=".5"/><polyline points="69.5,1997.2 97.6,2031.8 125.7,1910.5 153.7,1918.0 181.8,1918.0 209.9,1922.4 238.0,1919.9 266.1,2016.7 294.1,2059.4 322.2,2018.6 350.3,2024.2 378.4,2054.4 406.5,2107.8 434.5,2158.7 462.6,2212.2 490.7,2173.2 518.8,2168.2 546.9,2161.9 574.9,2149.3 603.0,2143.6 631.1,2115.4 659.2,2039.3 687.3,1985.3 715.3,1931.8 743.4,1902.9 771.5,1888.5 799.6,1882.2 827.7,1859.6 855.7,1968.3 883.8,1965.8 911.9,1848.3 940.0,1842.0 968.1,1835.1 996.1,1830.7 1024.2,1790.4 1052.3,1853.9 1080.4,1901.7 1108.5,1813.7 1136.5,1791.7 1164.6,1804.3" fill="none" stroke="#92d050" stroke-width="2" stroke-dasharray="2 2" opacity=".5"/><polyline points="69.5,2068.2 97.6,2083.3 125.7,1964.5 153.7,1965.2 181.8,1967.0 209.9,1967.0 238.0,1960.8 266.1,2056.9 294.1,2078.3 322.2,1990.9 350.3,2007.3 378.4,2040.6 406.5,2089.6 434.5,2133.6 462.6,2214.0 490.7,2191.4 518.8,2175.7 546.9,2158.7 574.9,2146.2 603.0,2130.4 631.1,2107.8 659.2,2046.2 687.3,2011.0 715.3,1965.8 743.4,1945.7 771.5,1937.5 799.6,1936.9 827.7,1919.9 855.7,2025.5 883.8,2045.6 911.9,1914.9 940.0,1921.8 968.1,1916.1 996.1,1909.2 1024.2,1890.4 1052.3,2001.6 1080.4,2031.1 1108.5,1901.7 1136.5,1878.4 1164.6,1902.9" fill="none" stroke="#00b0f0" stroke-width="2" stroke-dasharray="2 2" opacity=".5"/><polyline points="69.5,2206.5 97.6,2212.2 125.7,2172.6 153.7,2171.3 181.8,2167.5 209.9,2171.3 238.0,2167.5 266.1,2214.0 294.1,2211.5 322.2,2168.8 350.3,2172.6 378.4,2182.0 406.5,2197.7 434.5,2224.7 462.6,2265.6 490.7,2253.0 518.8,2246.1 546.9,2218.4 574.9,2215.3 603.0,2205.9 631.1,2203.4 659.2,2171.3 687.3,2161.2 715.3,2144.9 743.4,2136.7 771.5,2133.6 799.6,2139.9 827.7,2127.3 855.7,2156.8 883.8,2177.6 911.9,2136.7 940.0,2132.3 968.1,2132.3 996.1,2140.5 1024.2,2109.7 1052.3,2144.9 1080.4,2175.1 1108.5,2131.7 1136.5,2109.1 1164.6,2117.9" fill="none" stroke="#c00000" stroke-width="2" stroke-dasharray="2 2" opacity=".5"/><polyline points="69.5,2161.2 97.6,2167.5 125.7,2126.7 153.7,2125.4 181.8,2125.4 209.9,2135.5 238.0,2126.0 266.1,2166.3 294.1,2171.9 322.2,2135.5 350.3,2144.3 378.4,2155.0 406.5,2173.2 434.5,2202.7 462.6,2243.6 490.7,2234.2 518.8,2226.6 546.9,2215.9 574.9,2200.8 603.0,2182.0 631.1,2161.9 659.2,2136.7 687.3,2117.9 715.3,2104.1 743.4,2096.5 771.5,2096.5 799.6,2109.1 827.7,2091.5 855.7,2127.9 883.8,2131.7 911.9,2078.9 940.0,2078.9 968.1,2086.5 996.1,2084.6 1024.2,2055.7 1052.3,2085.2 1080.4,2122.9 1108.5,2082.7 1136.5,2048.1 1164.6,2058.2" fill="none" stroke="#bf9000" stroke-width="2" stroke-dasharray="2 2" opacity=".5"/><polyline points="69.5,2161.9 97.6,2167.5 125.7,2123.5 153.7,2123.5 181.8,2124.8 209.9,2124.8 238.0,2126.0 266.1,2149.3 294.1,2173.8 322.2,2134.8 350.3,2141.1 378.4,2146.2 406.5,2163.8 434.5,2187.0 462.6,2215.3 490.7,2221.6 518.8,2201.5 546.9,2177.6 574.9,2163.1 603.0,2152.4 631.1,2136.1 659.2,2107.8 687.3,2124.2 715.3,2072.0 743.4,2066.3 771.5,2065.7 799.6,2068.2 827.7,2054.4 855.7,2096.5 883.8,2103.4 911.9,2057.5 940.0,2061.9 968.1,2056.3 996.1,2047.5 1024.2,2029.3 1052.3,2063.8 1080.4,2097.8 1108.5,2063.2 1136.5,2045.6 1164.6,2052.5" fill="none" stroke="#2bbf9c" stroke-width="2" stroke-dasharray="2 2" opacity=".5"/><polyline points="69.5,2164.4 97.6,2168.2 125.7,2136.7 153.7,2135.5 181.8,2135.5 209.9,2133.6 238.0,2129.2 266.1,2146.2 294.1,2151.8 322.2,2124.2 350.3,2129.2 378.4,2138.6 406.5,2165.0 434.5,2196.4 462.6,2240.4 490.7,2205.2 518.8,2188.3 546.9,2173.2 574.9,2158.7 603.0,2147.4 631.1,2132.3 659.2,2101.5 687.3,2087.1 715.3,2070.7 743.4,2065.7 771.5,2068.9 799.6,2071.4 827.7,2058.8 855.7,2061.9 883.8,2073.9 911.9,2074.5 940.0,2074.5 968.1,2083.3 996.1,2077.7 1024.2,2058.2 1052.3,2085.8 1080.4,2123.5 1108.5,2087.1 1136.5,2059.4 1164.6,2075.1" fill="none" stroke="#7030a0" stroke-width="2" stroke-dasharray="2 2" opacity=".5"/><polyline points="69.5,2166.9 97.6,2173.2 125.7,2122.3 153.7,2122.3 181.8,2121.6 209.9,2127.9 238.0,2132.3 266.1,2182.0 294.1,2190.2 322.2,2141.8 350.3,2151.8 378.4,2168.8 406.5,2189.5 434.5,2218.4 462.6,2258.7 490.7,2246.7 518.8,2251.1 546.9,2220.3 574.9,2215.9 603.0,2192.0 631.1,2190.8 659.2,2149.9 687.3,2133.0 715.3,2106.6 743.4,2092.1 771.5,2086.5 799.6,2093.4 827.7,2082.1 855.7,2121.0 883.8,2077.0 911.9,2078.9 940.0,2078.9 968.1,2080.2 996.1,2078.9 1024.2,2055.7 1052.3,2094.0 1080.4,2130.4 1108.5,2074.5 1136.5,2041.2 1164.6,2048.7" fill="none" stroke="#ff99ff" stroke-width="2" stroke-dasharray="2 2" opacity=".5"/><polyline points="69.5,1568.2 97.6,1835.5 125.7,1877.5 153.7,1602.9 181.8,1604.9 209.9,1604.2 238.0,1624.7 266.1,1617.3 294.1,1898.1 322.2,1725.8 350.3,1720.0 378.4,1763.6 406.5,1847.7 434.5,1963.5 462.6,2125.3 490.7,2094.4 518.8,2032.0 546.9,1991.6 574.9,1960.0 603.0,1961.2 631.1,1957.3 659.2,1958.6 687.3,1953.8 715.3,1779.2 743.4,1694.3 771.5,1647.9 799.6,1592.9 827.7,1627.2 855.7,1591.0 883.8,1851.5 911.9,1890.6 940.0,1613.1 968.1,1611.7 996.1,1605.3 1024.2,1603.0 1052.3,1547.4 1080.4,1835.0 1108.5,1883.5 1136.5,1610.3 1164.6,1619.1" fill="none" stroke="#1070c0" stroke-width="2.6" stroke-linejoin="round"/><polyline points="69.5,1561.9 97.6,1808.5 125.7,1854.7 153.7,1582.4 181.8,1606.5 209.9,1611.3 238.0,1633.1 266.1,1611.9 294.1,1919.4 322.2,1758.6 350.3,1688.6 378.4,1750.8 406.5,1809.1 434.5,1895.5 462.6,2048.2 490.7,2041.6 518.8,2005.4 546.9,1986.6 574.9,1988.7 603.0,1961.4 631.1,2042.4 659.2,1946.8 687.3,1940.6 715.3,1747.2 743.4,1651.0 771.5,1651.5 799.6,1658.3 827.7,1637.7 855.7,1598.4 883.8,1902.9 911.9,1914.1 940.0,1585.8 968.1,1571.5 996.1,1603.5 1024.2,1602.7 1052.3,1515.8 1080.4,1793.6 1108.5,1846.1 1136.5,1593.2 1164.6,1599.2" fill="none" stroke="#c55a11" stroke-width="2.6" stroke-linejoin="round"/><polyline points="69.5,1702.3 97.6,1818.0 125.7,1856.4 153.7,1736.6 181.8,1738.9 209.9,1734.5 238.0,1743.3 266.1,1744.9 294.1,1855.0 322.2,1831.7 350.3,1821.9 378.4,1848.1 406.5,1934.5 434.5,1998.5 462.6,2068.8 490.7,2010.0 518.8,2033.2 546.9,2004.3 574.9,1994.4 603.0,1980.2 631.1,1973.1 659.2,1951.3 687.3,1922.2 715.3,1821.9 743.4,1797.2 771.5,1778.4 799.6,1762.8 827.7,1761.0 855.7,1716.7 883.8,1768.2 911.9,1835.6 940.0,1737.3 968.1,1734.9 996.1,1731.2 1024.2,1743.8 1052.3,1682.8 1080.4,1778.9 1108.5,1798.9 1136.5,1743.5 1164.6,1728.0" fill="none" stroke="#ffc000" stroke-width="2.6" stroke-linejoin="round"/><polyline points="69.5,1723.3 97.6,1837.3 125.7,1883.3 153.7,1760.8 181.8,1769.5 209.9,1774.2 238.0,1776.5 266.1,1788.8 294.1,1913.1 322.2,1888.1 350.3,1911.4 378.4,1957.8 406.5,2033.9 434.5,2094.4 462.6,2157.2 490.7,2113.8 518.8,2083.7 546.9,2078.1 574.9,2082.1 603.0,2066.5 631.1,2057.7 659.2,2029.9 687.3,1987.7 715.3,1867.8 743.4,1825.2 771.5,1811.7 799.6,1793.3 827.7,1790.9 855.7,1744.9 883.8,1821.4 911.9,1890.0 940.0,1766.3 968.1,1762.5 996.1,1757.1 1024.2,1762.5 1052.3,1717.4 1080.4,1852.9 1108.5,1862.1 1136.5,1754.9 1164.6,1753.9" fill="none" stroke="#92d050" stroke-width="2.6" stroke-linejoin="round"/><polyline points="69.5,1859.3 97.6,1976.1 125.7,1999.8 153.7,1877.5 181.8,1886.5 209.9,1888.5 238.0,1892.6 266.1,1898.7 294.1,2008.4 322.2,1941.7 350.3,1946.2 378.4,1976.1 406.5,2030.2 434.5,2097.1 462.6,2169.9 490.7,2149.2 518.8,2140.7 546.9,2123.0 574.9,2103.7 603.0,2086.1 631.1,2074.6 659.2,2053.3 687.3,2030.6 715.3,1945.5 743.4,1900.7 771.5,1889.8 799.6,1891.3 827.7,1893.0 855.7,1879.1 883.8,1983.0 911.9,2008.4 940.0,1885.3 968.1,1890.2 996.1,1900.3 1024.2,1887.1 1052.3,1853.0 1080.4,1959.3 1108.5,1995.6 1136.5,1891.5 1164.6,1894.9" fill="none" stroke="#00b0f0" stroke-width="2.6" stroke-linejoin="round"/><polyline points="69.5,2095.2 97.6,2128.4 125.7,2141.5 153.7,2103.2 181.8,2104.7 209.9,2121.1 238.0,2125.8 266.1,2122.1 294.1,2175.7 322.2,2147.6 350.3,2129.9 378.4,2141.3 406.5,2161.3 434.5,2194.2 462.6,2236.0 490.7,2212.4 518.8,2180.7 546.9,2159.3 574.9,2151.5 603.0,2152.7 631.1,2187.4 659.2,2158.2 687.3,2157.4 715.3,2128.7 743.4,2130.8 771.5,2131.0 799.6,2133.7 827.7,2107.8 855.7,2098.2 883.8,2133.3 911.9,2132.2 940.0,2105.0 968.1,2104.5 996.1,2116.1 1024.2,2126.5 1052.3,2086.0 1080.4,2094.4 1108.5,2118.6 1136.5,2121.1 1164.6,2126.7" fill="none" stroke="#c00000" stroke-width="2.6" stroke-linejoin="round"/><polyline points="69.5,2041.8 97.6,2080.3 125.7,2092.0 153.7,2048.5 181.8,2054.4 209.9,2070.7 238.0,2074.8 266.1,2078.2 294.1,2096.4 322.2,2005.4 350.3,2038.7 378.4,2041.9 406.5,2097.4 434.5,2147.4 462.6,2209.8 490.7,2192.2 518.8,2181.9 546.9,2168.6 574.9,2152.4 603.0,2130.0 631.1,2143.7 659.2,2109.6 687.3,2092.7 715.3,2054.1 743.4,2059.5 771.5,2081.4 799.6,2085.9 827.7,2013.0 855.7,2010.0 883.8,2069.1 911.9,2075.8 940.0,2030.7 968.1,2032.4 996.1,2046.0 1024.2,2042.2 1052.3,2014.4 1080.4,2030.9 1108.5,2058.9 1136.5,2049.6 1164.6,2054.4" fill="none" stroke="#bf9000" stroke-width="2.6" stroke-linejoin="round"/><polyline points="69.5,2032.3 97.6,2070.3 125.7,2083.4 153.7,2033.9 181.8,2035.3 209.9,2039.9 238.0,2039.2 266.1,2035.4 294.1,2082.6 322.2,2061.5 350.3,2060.3 378.4,2081.2 406.5,2114.9 434.5,2153.3 462.6,2187.8 490.7,2166.5 518.8,2139.8 546.9,2114.6 574.9,2092.5 603.0,2084.5 631.1,2098.2 659.2,2072.2 687.3,2075.4 715.3,2035.3 743.4,2022.0 771.5,2020.9 799.6,2029.3 827.7,2040.9 855.7,2010.7 883.8,2062.5 911.9,2073.7 940.0,2036.1 968.1,2036.9 996.1,2039.4 1024.2,2038.1 1052.3,2011.9 1080.4,2032.7 1108.5,2063.1 1136.5,2035.5 1164.6,2038.2" fill="none" stroke="#2bbf9c" stroke-width="2.6" stroke-linejoin="round"/><polyline points="69.5,2033.4 97.6,2060.0 125.7,2071.6 153.7,2037.6 181.8,2041.0 209.9,2050.6 238.0,2053.3 266.1,2024.9 294.1,2068.2 322.2,2061.6 350.3,2060.1 378.4,2075.0 406.5,2099.7 434.5,2142.3 462.6,2204.3 490.7,2159.5 518.8,2136.5 546.9,2107.8 574.9,2089.4 603.0,2094.4 631.1,2080.8 659.2,2075.3 687.3,2073.2 715.3,2059.5 743.4,2044.2 771.5,2053.0 799.6,2022.2 827.7,2042.9 855.7,2019.5 883.8,2039.0 911.9,2071.7 940.0,2054.0 968.1,2055.9 996.1,2060.0 1024.2,2068.9 1052.3,2032.6 1080.4,2034.3 1108.5,2073.1 1136.5,2065.4 1164.6,2070.6" fill="none" stroke="#7030a0" stroke-width="2.6" stroke-linejoin="round"/><polyline points="69.5,2023.1 97.6,2077.2 125.7,2087.4 153.7,2044.5 181.8,2046.2 209.9,2054.6 238.0,2063.6 266.1,2047.7 294.1,2123.5 322.2,2095.5 350.3,2081.8 378.4,2124.7 406.5,2148.4 434.5,2184.0 462.6,2230.1 490.7,2205.2 518.8,2193.9 546.9,2180.3 574.9,2178.4 603.0,2166.6 631.1,2198.1 659.2,2150.8 687.3,2134.7 715.3,2082.0 743.4,2056.0 771.5,2062.5 799.6,2073.1 827.7,2061.1 855.7,2044.7 883.8,2117.1 911.9,2106.4 940.0,2041.6 968.1,2032.8 996.1,2053.2 1024.2,2048.3 1052.3,2009.5 1080.4,2052.6 1108.5,2062.9 1136.5,2037.9 1164.6,2048.5" fill="none" stroke="#ff99ff" stroke-width="2.6" stroke-linejoin="round"/></svg>
<div class="a" style="left:-2px;top:1442px;width:1179px;text-align:center;font-size:22px;line-height:26px;letter-spacing:1.7px;color:#c00000;white-space:nowrap"><span style="font-family:&quot;Liberation Sans&quot;,sans-serif;font-weight:bold">2024</span><span style="font-family:&quot;Liberation Serif&quot;,serif;-webkit-text-stroke:.4px #c00000">年（虚线</span><span style="font-family:&quot;Liberation Sans&quot;,sans-serif;font-weight:bold">2023</span><span style="font-family:&quot;Liberation Serif&quot;,serif;-webkit-text-stroke:.4px #c00000">）春运期间中国内地地铁客运量前</span><span style="font-family:&quot;Liberation Sans&quot;,sans-serif;font-weight:bold">10</span><span style="font-family:&quot;Liberation Serif&quot;,serif;-webkit-text-stroke:.4px #c00000">城走势图（万人次）</span></div>
<div class="a" style="left:0px;top:2381px;width:1px;height:12px;background:#d4d4d4"></div>
<div class="a" style="left:29px;top:2381px;width:1px;height:12px;background:#d4d4d4"></div>
<div class="a" style="left:130px;top:2381px;width:1px;height:12px;background:#d4d4d4"></div>
<div class="a" style="left:231px;top:2381px;width:1px;height:12px;background:#d4d4d4"></div>
<div class="a" style="left:300px;top:2381px;width:1px;height:12px;background:#d4d4d4"></div>
<div class="a" style="left:377px;top:2381px;width:1px;height:12px;background:#d4d4d4"></div>
<div class="a" style="left:454px;top:2381px;width:1px;height:12px;background:#d4d4d4"></div>
<div class="a" style="left:531px;top:2381px;width:1px;height:12px;background:#d4d4d4"></div>
<div class="a" style="left:608px;top:2381px;width:1px;height:12px;background:#d4d4d4"></div>
<div class="a" style="left:685px;top:2381px;width:1px;height:12px;background:#d4d4d4"></div>
<div class="a" style="left:762px;top:2381px;width:1px;height:12px;background:#d4d4d4"></div>
<div class="a" style="left:839px;top:2381px;width:1px;height:12px;background:#d4d4d4"></div>
<div class="a" style="left:916px;top:2381px;width:1px;height:12px;background:#d4d4d4"></div>
<div class="a" style="left:993px;top:2381px;width:1px;height:12px;background:#d4d4d4"></div>
<div class="a" style="left:1070px;top:2381px;width:1px;height:12px;background:#d4d4d4"></div>
<svg class="a" style="left:0;top:0" width="1179" height="2394"><g transform="translate(314.0,381.0) rotate(-20.59) scale(1.014)"><g transform="translate(-57,3.5)"><g opacity=".4" fill="#7a8088"><path fill-rule="evenodd" d="M-29,3 A29,22 0 1 0 29,3 A29,22 0 1 0 -29,3 Z M-17,6 A13,10 0 1 0 9,6 A13,10 0 1 0 -17,6 Z"/><circle cx="-5" cy="7" r="4.5"/><path d="M18,-26 A22,22 0 0 1 36,-6" fill="none" stroke="#7a8088" stroke-width="5" stroke-linecap="round"/><path d="M16,-38 A34,34 0 0 1 48,-4" fill="none" stroke="#7a8088" stroke-width="4.5" stroke-linecap="round"/></g></g><g transform="translate(-58,2)"><g opacity=".35" fill="#ffffff"><path fill-rule="evenodd" d="M-29,3 A29,22 0 1 0 29,3 A29,22 0 1 0 -29,3 Z M-17,6 A13,10 0 1 0 9,6 A13,10 0 1 0 -17,6 Z"/><circle cx="-5" cy="7" r="4.5"/><path d="M18,-26 A22,22 0 0 1 36,-6" fill="none" stroke="#ffffff" stroke-width="5" stroke-linecap="round"/><path d="M16,-38 A34,34 0 0 1 48,-4" fill="none" stroke="#ffffff" stroke-width="4.5" stroke-linecap="round"/></g></g><text x="-17.2" y="14.5" font-family="Liberation Sans" font-weight="bold" font-size="38" letter-spacing=".4" fill="#7a8088" stroke="#7a8088" stroke-width="2" opacity=".4">@地铁客流及运输研究阿牛</text><text x="-18.7" y="13" font-family="Liberation Sans" font-weight="bold" font-size="38" letter-spacing=".4" fill="#ffffff" stroke="#ffffff" stroke-width="2" opacity=".35">@地铁客流及运输研究阿牛</text></g><g transform="translate(373.6,681.6) rotate(-20.29) scale(1.038)"><g transform="translate(-57,3.5)"><g opacity=".4" fill="#7a8088"><path fill-rule="evenodd" d="M-29,3 A29,22 0 1 0 29,3 A29,22 0 1 0 -29,3 Z M-17,6 A13,10 0 1 0 9,6 A13,10 0 1 0 -17,6 Z"/><circle cx="-5" cy="7" r="4.5"/><path d="M18,-26 A22,22 0 0 1 36,-6" fill="none" stroke="#7a8088" stroke-width="5" stroke-linecap="round"/><path d="M16,-38 A34,34 0 0 1 48,-4" fill="none" stroke="#7a8088" stroke-width="4.5" stroke-linecap="round"/></g></g><g transform="translate(-58,2)"><g opacity=".35" fill="#ffffff"><path fill-rule="evenodd" d="M-29,3 A29,22 0 1 0 29,3 A29,22 0 1 0 -29,3 Z M-17,6 A13,10 0 1 0 9,6 A13,10 0 1 0 -17,6 Z"/><circle cx="-5" cy="7" r="4.5"/><path d="M18,-26 A22,22 0 0 1 36,-6" fill="none" stroke="#ffffff" stroke-width="5" stroke-linecap="round"/><path d="M16,-38 A34,34 0 0 1 48,-4" fill="none" stroke="#ffffff" stroke-width="4.5" stroke-linecap="round"/></g></g><text x="-17.2" y="14.5" font-family="Liberation Sans" font-weight="bold" font-size="38" letter-spacing=".4" fill="#7a8088" stroke="#7a8088" stroke-width="2" opacity=".4">@地铁客流及运输研究阿牛</text><text x="-18.7" y="13" font-family="Liberation Sans" font-weight="bold" font-size="38" letter-spacing=".4" fill="#ffffff" stroke="#ffffff" stroke-width="2" opacity=".35">@地铁客流及运输研究阿牛</text></g><g transform="translate(479.0,1028.5) rotate(-24.13) scale(1.029)"><g transform="translate(-57,3.5)"><g opacity=".4" fill="#7a8088"><path fill-rule="evenodd" d="M-29,3 A29,22 0 1 0 29,3 A29,22 0 1 0 -29,3 Z M-17,6 A13,10 0 1 0 9,6 A13,10 0 1 0 -17,6 Z"/><circle cx="-5" cy="7" r="4.5"/><path d="M18,-26 A22,22 0 0 1 36,-6" fill="none" stroke="#7a8088" stroke-width="5" stroke-linecap="round"/><path d="M16,-38 A34,34 0 0 1 48,-4" fill="none" stroke="#7a8088" stroke-width="4.5" stroke-linecap="round"/></g></g><g transform="translate(-58,2)"><g opacity=".35" fill="#ffffff"><path fill-rule="evenodd" d="M-29,3 A29,22 0 1 0 29,3 A29,22 0 1 0 -29,3 Z M-17,6 A13,10 0 1 0 9,6 A13,10 0 1 0 -17,6 Z"/><circle cx="-5" cy="7" r="4.5"/><path d="M18,-26 A22,22 0 0 1 36,-6" fill="none" stroke="#ffffff" stroke-width="5" stroke-linecap="round"/><path d="M16,-38 A34,34 0 0 1 48,-4" fill="none" stroke="#ffffff" stroke-width="4.5" stroke-linecap="round"/></g></g><text x="-17.2" y="14.5" font-family="Liberation Sans" font-weight="bold" font-size="38" letter-spacing=".4" fill="#7a8088" stroke="#7a8088" stroke-width="2" opacity=".4">@地铁客流及运输研究阿牛</text><text x="-18.7" y="13" font-family="Liberation Sans" font-weight="bold" font-size="38" letter-spacing=".4" fill="#ffffff" stroke="#ffffff" stroke-width="2" opacity=".35">@地铁客流及运输研究阿牛</text></g><g transform="translate(522.5,1429.0) rotate(-21.19) scale(0.852)"><g transform="translate(-57,3.5)"><g opacity=".4" fill="#7a8088"><path fill-rule="evenodd" d="M-29,3 A29,22 0 1 0 29,3 A29,22 0 1 0 -29,3 Z M-17,6 A13,10 0 1 0 9,6 A13,10 0 1 0 -17,6 Z"/><circle cx="-5" cy="7" r="4.5"/><path d="M18,-26 A22,22 0 0 1 36,-6" fill="none" stroke="#7a8088" stroke-width="5" stroke-linecap="round"/><path d="M16,-38 A34,34 0 0 1 48,-4" fill="none" stroke="#7a8088" stroke-width="4.5" stroke-linecap="round"/></g></g><g transform="translate(-58,2)"><g opacity=".35" fill="#ffffff"><path fill-rule="evenodd" d="M-29,3 A29,22 0 1 0 29,3 A29,22 0 1 0 -29,3 Z M-17,6 A13,10 0 1 0 9,6 A13,10 0 1 0 -17,6 Z"/><circle cx="-5" cy="7" r="4.5"/><path d="M18,-26 A22,22 0 0 1 36,-6" fill="none" stroke="#ffffff" stroke-width="5" stroke-linecap="round"/><path d="M16,-38 A34,34 0 0 1 48,-4" fill="none" stroke="#ffffff" stroke-width="4.5" stroke-linecap="round"/></g></g><text x="-17.2" y="14.5" font-family="Liberation Sans" font-weight="bold" font-size="38" letter-spacing=".4" fill="#7a8088" stroke="#7a8088" stroke-width="2" opacity=".4">@地铁客流及运输研究阿牛</text><text x="-18.7" y="13" font-family="Liberation Sans" font-weight="bold" font-size="38" letter-spacing=".4" fill="#ffffff" stroke="#ffffff" stroke-width="2" opacity=".35">@地铁客流及运输研究阿牛</text></g><g transform="translate(405.0,1980.0) rotate(-23.42) scale(0.966)"><g transform="translate(-57,3.5)"><g opacity=".4" fill="#7a8088"><path fill-rule="evenodd" d="M-29,3 A29,22 0 1 0 29,3 A29,22 0 1 0 -29,3 Z M-17,6 A13,10 0 1 0 9,6 A13,10 0 1 0 -17,6 Z"/><circle cx="-5" cy="7" r="4.5"/><path d="M18,-26 A22,22 0 0 1 36,-6" fill="none" stroke="#7a8088" stroke-width="5" stroke-linecap="round"/><path d="M16,-38 A34,34 0 0 1 48,-4" fill="none" stroke="#7a8088" stroke-width="4.5" stroke-linecap="round"/></g></g><g transform="translate(-58,2)"><g opacity=".35" fill="#ffffff"><path fill-rule="evenodd" d="M-29,3 A29,22 0 1 0 29,3 A29,22 0 1 0 -29,3 Z M-17,6 A13,10 0 1 0 9,6 A13,10 0 1 0 -17,6 Z"/><circle cx="-5" cy="7" r="4.5"/><path d="M18,-26 A22,22 0 0 1 36,-6" fill="none" stroke="#ffffff" stroke-width="5" stroke-linecap="round"/><path d="M16,-38 A34,34 0 0 1 48,-4" fill="none" stroke="#ffffff" stroke-width="4.5" stroke-linecap="round"/></g></g><text x="-17.2" y="14.5" font-family="Liberation Sans" font-weight="bold" font-size="38" letter-spacing=".4" fill="#7a8088" stroke="#7a8088" stroke-width="2" opacity=".4">@地铁客流及运输研究阿牛</text><text x="-18.7" y="13" font-family="Liberation Sans" font-weight="bold" font-size="38" letter-spacing=".4" fill="#ffffff" stroke="#ffffff" stroke-width="2" opacity=".35">@地铁客流及运输研究阿牛</text></g><defs><filter id="sh" x="-10%" y="-30%" width="120%" height="160%"><feGaussianBlur in="SourceAlpha" stdDeviation="1.6"/><feOffset dx="1" dy="1"/><feComponentTransfer><feFuncA type="linear" slope=".6"/></feComponentTransfer><feMerge><feMergeNode/><feMergeNode in="SourceGraphic"/></feMerge></filter></defs><g filter="url(#sh)"><g transform="translate(775,2366) scale(.6)"><g opacity="1" fill="#ffffff"><path fill-rule="evenodd" d="M-29,3 A29,22 0 1 0 29,3 A29,22 0 1 0 -29,3 Z M-17,6 A13,10 0 1 0 9,6 A13,10 0 1 0 -17,6 Z"/><circle cx="-5" cy="7" r="4.5"/><path d="M18,-26 A22,22 0 0 1 36,-6" fill="none" stroke="#ffffff" stroke-width="5" stroke-linecap="round"/><path d="M16,-38 A34,34 0 0 1 48,-4" fill="none" stroke="#ffffff" stroke-width="4.5" stroke-linecap="round"/></g></g><text x="802" y="2378" font-family="Liberation Sans" font-size="30" letter-spacing=".6" fill="#ffffff">@地铁客流及运输研究阿牛</text></g></svg>
</body></html>
